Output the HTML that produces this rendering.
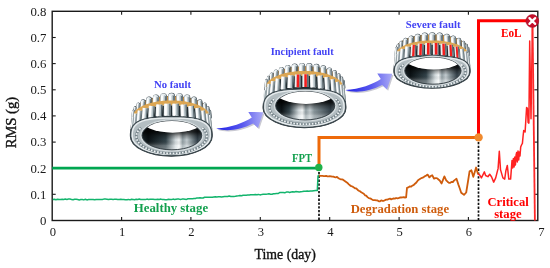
<!DOCTYPE html><html><head><meta charset="utf-8"><style>html,body{margin:0;padding:0;background:#fff;}svg{display:block}</style></head><body>
<svg width="550" height="268" viewBox="0 0 550 268" font-family="&quot;Liberation Serif&quot;, serif">
<defs>
<linearGradient id="rol" x1="0" x2="1" y1="0" y2="0">
<stop offset="0" stop-color="#c9d3d7"/><stop offset="0.3" stop-color="#f7fafb"/><stop offset="0.65" stop-color="#c2cdd2"/><stop offset="1" stop-color="#5d6a70"/></linearGradient>
<linearGradient id="rolr" x1="0" x2="1" y1="0" y2="0">
<stop offset="0" stop-color="#ff5050"/><stop offset="0.4" stop-color="#ff1010"/><stop offset="1" stop-color="#d00000"/></linearGradient>
<linearGradient id="borev" x1="0" x2="0" y1="0" y2="1"><stop offset="0" stop-color="#000" stop-opacity="0.9"/><stop offset="0.38" stop-color="#000" stop-opacity="0.75"/><stop offset="0.52" stop-color="#000" stop-opacity="0.3"/><stop offset="0.66" stop-color="#000" stop-opacity="0"/><stop offset="0.85" stop-color="#fff" stop-opacity="0.25"/><stop offset="1" stop-color="#fff" stop-opacity="0.35"/></linearGradient>
<linearGradient id="bandg" x1="0" x2="1" y1="0" y2="0"><stop offset="0" stop-color="#aeb9be"/><stop offset="0.1" stop-color="#7f8c92"/><stop offset="0.2" stop-color="#222c31"/><stop offset="0.8" stop-color="#222c31"/><stop offset="0.9" stop-color="#7f8c92"/><stop offset="1" stop-color="#6f7c82"/></linearGradient>
<linearGradient id="bore" x1="0" x2="1" y1="0" y2="0">
<stop offset="0" stop-color="#2a3236"/><stop offset="0.1" stop-color="#0c1216"/><stop offset="0.3" stop-color="#1c2428"/><stop offset="0.42" stop-color="#8a979c"/><stop offset="0.47" stop-color="#e8eef0"/><stop offset="0.55" stop-color="#8d9aa0"/><stop offset="0.7" stop-color="#a9b5ba"/><stop offset="0.78" stop-color="#6f7c82"/><stop offset="0.9" stop-color="#2a3337"/><stop offset="1" stop-color="#3b464b"/></linearGradient>
<linearGradient id="arr" x1="0" x2="1" y1="0" y2="0">
<stop offset="0" stop-color="#1f1fe6"/><stop offset="0.55" stop-color="#5858ee"/><stop offset="1" stop-color="#ababf6"/></linearGradient>
</defs>
<path d="M132.91,113.36 L132.96,112.48 L133.12,111.61 L133.38,110.74 L133.75,109.88 L134.22,109.03 L134.79,108.19 L135.46,107.36 L136.23,106.55 L137.09,105.76 L138.05,104.99 L139.10,104.24 L140.24,103.52 L141.46,102.82 L142.77,102.16 L144.15,101.52 L145.61,100.92 L147.14,100.35 L148.73,99.82 L150.39,99.32 L152.10,98.86 L153.87,98.44 L155.68,98.07 L157.54,97.73 L159.44,97.44 L161.36,97.19 L163.32,96.98 L165.29,96.82 L167.29,96.71 L169.29,96.64 L171.30,96.62 L173.31,96.64 L175.31,96.71 L177.31,96.82 L179.28,96.98 L181.24,97.19 L183.16,97.44 L185.06,97.73 L186.92,98.07 L188.73,98.44 L190.50,98.86 L192.21,99.32 L193.87,99.82 L195.46,100.35 L196.99,100.92 L198.45,101.52 L199.83,102.16 L201.14,102.82 L202.36,103.52 L203.50,104.24 L204.55,104.99 L205.51,105.76 L206.37,106.55 L207.14,107.36 L207.81,108.19 L208.38,109.03 L208.85,109.88 L209.22,110.74 L209.48,111.61 L209.64,112.48 L209.69,113.36 L212.10,134.00 L212.10,136.30 A40.80,19.70 0 0 1 130.50,136.30 L130.50,134.00 Z" fill="#9aa6ab" stroke="#2c363b" stroke-width="1.3"/>
<polygon points="209.69,113.36 209.64,112.48 209.48,111.61 209.22,110.74 208.85,109.88 208.38,109.03 207.81,108.19 207.14,107.36 206.37,106.55 205.51,105.76 204.55,104.99 203.50,104.24 202.36,103.52 201.14,102.82 199.83,102.16 198.45,101.52 196.99,100.92 195.46,100.35 193.87,99.82 192.21,99.32 190.50,98.86 188.73,98.44 186.92,98.07 185.06,97.73 183.16,97.44 181.24,97.19 179.28,96.98 177.31,96.82 175.31,96.71 173.31,96.64 171.30,96.62 169.29,96.64 167.29,96.71 165.29,96.82 163.32,96.98 161.36,97.19 159.44,97.44 157.54,97.73 155.68,98.07 153.87,98.44 152.10,98.86 150.39,99.32 148.73,99.82 147.14,100.35 145.61,100.92 144.15,101.52 142.77,102.16 141.46,102.82 140.24,103.52 139.10,104.24 138.05,104.99 137.09,105.76 136.23,106.55 135.46,107.36 134.79,108.19 134.22,109.03 133.75,109.88 133.38,110.74 133.12,111.61 132.96,112.48 132.91,113.36 130.50,134.00 130.56,133.11 130.72,132.22 131.00,131.34 131.39,130.47 131.89,129.60 132.50,128.75 133.21,127.91 134.03,127.09 134.95,126.28 135.97,125.50 137.08,124.74 138.29,124.01 139.59,123.30 140.98,122.62 142.45,121.98 144.00,121.37 145.62,120.79 147.32,120.25 149.08,119.74 150.90,119.28 152.78,118.85 154.71,118.47 156.68,118.13 158.69,117.83 160.74,117.58 162.82,117.37 164.92,117.21 167.04,117.09 169.16,117.02 171.30,117.00 173.44,117.02 175.56,117.09 177.68,117.21 179.78,117.37 181.86,117.58 183.91,117.83 185.92,118.13 187.89,118.47 189.82,118.85 191.70,119.28 193.52,119.74 195.28,120.25 196.98,120.79 198.60,121.37 200.15,121.98 201.62,122.62 203.01,123.30 204.31,124.01 205.52,124.74 206.63,125.50 207.65,126.28 208.57,127.09 209.39,127.91 210.10,128.75 210.71,129.60 211.21,130.47 211.60,131.34 211.88,132.22 212.04,133.11 212.10,134.00" fill="url(#bandg)"/>
<polygon points="208.14,108.25 207.65,107.57 207.10,106.89 206.47,106.22 205.78,105.57 205.03,104.93 204.22,104.30 203.34,103.69 202.41,103.10 201.41,102.52 200.37,101.97 199.26,101.43 198.11,100.92 196.91,100.42 195.66,99.96 194.36,99.51 193.02,99.09 191.64,98.69 190.23,98.33 188.77,97.98 187.29,97.67 185.78,97.38 184.24,97.13 182.67,96.90 181.09,96.70 179.48,96.53 177.87,96.39 176.23,96.28 174.59,96.21 172.95,96.16 171.30,96.14 169.65,96.16 168.01,96.21 166.37,96.28 164.73,96.39 163.12,96.53 161.51,96.70 159.93,96.90 158.36,97.13 156.82,97.38 155.31,97.67 153.83,97.98 152.37,98.33 150.96,98.69 149.58,99.09 148.24,99.51 146.94,99.96 145.69,100.42 144.49,100.92 143.34,101.43 142.23,101.97 141.19,102.52 140.19,103.10 139.26,103.69 138.38,104.30 137.57,104.93 136.82,105.57 136.13,106.22 135.50,106.89 134.95,107.57 134.46,108.25 133.49,116.87 133.99,116.17 134.56,115.49 135.20,114.82 135.91,114.16 136.68,113.52 137.52,112.89 138.42,112.27 139.38,111.68 140.39,111.10 141.47,110.54 142.60,110.00 143.79,109.48 145.02,108.98 146.30,108.51 147.63,108.06 149.01,107.64 150.42,107.24 151.88,106.87 153.37,106.53 154.89,106.21 156.44,105.92 158.02,105.66 159.63,105.43 161.26,105.23 162.90,105.06 164.56,104.92 166.24,104.82 167.92,104.74 169.61,104.69 171.30,104.68 172.99,104.69 174.68,104.74 176.36,104.82 178.04,104.92 179.70,105.06 181.34,105.23 182.97,105.43 184.58,105.66 186.16,105.92 187.71,106.21 189.23,106.53 190.72,106.87 192.18,107.24 193.59,107.64 194.97,108.06 196.30,108.51 197.58,108.98 198.81,109.48 200.00,110.00 201.13,110.54 202.21,111.10 203.22,111.68 204.18,112.27 205.08,112.89 205.92,113.52 206.69,114.16 207.40,114.82 208.04,115.49 208.61,116.17 209.11,116.87" fill="#c99042"/>
<line x1="209.72" y1="111.10" x2="210.45" y2="117.33" stroke="#46525a" stroke-width="2.90" stroke-linecap="round"/>
<line x1="209.43" y1="111.13" x2="210.15" y2="117.36" stroke="#e8eef0" stroke-width="2.00" stroke-linecap="round"/>
<line x1="208.98" y1="111.18" x2="209.70" y2="117.41" stroke="#ffffff" stroke-width="0.60" stroke-linecap="round"/>
<line x1="209.97" y1="111.07" x2="210.70" y2="117.30" stroke="#b3bfc4" stroke-width="0.84" stroke-linecap="round"/>
<line x1="210.27" y1="111.03" x2="210.99" y2="117.26" stroke="#56646a" stroke-width="0.40" stroke-linecap="round"/>
<line x1="208.06" y1="107.68" x2="208.75" y2="113.89" stroke="#46525a" stroke-width="2.90" stroke-linecap="round"/>
<line x1="207.76" y1="107.71" x2="208.45" y2="113.92" stroke="#e8eef0" stroke-width="2.00" stroke-linecap="round"/>
<line x1="207.31" y1="107.76" x2="208.00" y2="113.97" stroke="#ffffff" stroke-width="0.60" stroke-linecap="round"/>
<line x1="208.31" y1="107.65" x2="209.00" y2="113.86" stroke="#b3bfc4" stroke-width="0.84" stroke-linecap="round"/>
<line x1="208.60" y1="107.61" x2="209.30" y2="113.83" stroke="#56646a" stroke-width="0.40" stroke-linecap="round"/>
<line x1="204.80" y1="104.48" x2="205.43" y2="110.68" stroke="#46525a" stroke-width="3.87" stroke-linecap="round"/>
<line x1="204.50" y1="104.51" x2="205.13" y2="110.71" stroke="#e8eef0" stroke-width="2.97" stroke-linecap="round"/>
<line x1="203.83" y1="104.58" x2="204.47" y2="110.78" stroke="#ffffff" stroke-width="0.89" stroke-linecap="round"/>
<line x1="205.31" y1="104.43" x2="205.94" y2="110.63" stroke="#b3bfc4" stroke-width="1.25" stroke-linecap="round"/>
<line x1="205.76" y1="104.38" x2="206.39" y2="110.59" stroke="#56646a" stroke-width="0.59" stroke-linecap="round"/>
<line x1="200.09" y1="101.66" x2="200.63" y2="107.84" stroke="#46525a" stroke-width="4.88" stroke-linecap="round"/>
<line x1="199.79" y1="101.68" x2="200.33" y2="107.87" stroke="#e8eef0" stroke-width="3.98" stroke-linecap="round"/>
<line x1="198.90" y1="101.76" x2="199.44" y2="107.95" stroke="#ffffff" stroke-width="1.19" stroke-linecap="round"/>
<line x1="200.88" y1="101.59" x2="201.42" y2="107.77" stroke="#b3bfc4" stroke-width="1.67" stroke-linecap="round"/>
<line x1="201.47" y1="101.53" x2="202.01" y2="107.72" stroke="#56646a" stroke-width="0.80" stroke-linecap="round"/>
<line x1="194.13" y1="99.32" x2="194.56" y2="105.50" stroke="#46525a" stroke-width="5.71" stroke-linecap="round"/>
<line x1="193.83" y1="99.34" x2="194.26" y2="105.52" stroke="#e8eef0" stroke-width="4.81" stroke-linecap="round"/>
<line x1="192.75" y1="99.42" x2="193.18" y2="105.59" stroke="#ffffff" stroke-width="1.44" stroke-linecap="round"/>
<line x1="195.15" y1="99.25" x2="195.58" y2="105.43" stroke="#b3bfc4" stroke-width="2.02" stroke-linecap="round"/>
<line x1="195.87" y1="99.20" x2="196.30" y2="105.38" stroke="#56646a" stroke-width="0.96" stroke-linecap="round"/>
<line x1="187.19" y1="97.58" x2="187.49" y2="103.75" stroke="#46525a" stroke-width="6.33" stroke-linecap="round"/>
<line x1="186.89" y1="97.59" x2="187.19" y2="103.76" stroke="#e8eef0" stroke-width="5.43" stroke-linecap="round"/>
<line x1="185.67" y1="97.65" x2="185.97" y2="103.82" stroke="#ffffff" stroke-width="1.63" stroke-linecap="round"/>
<line x1="188.38" y1="97.52" x2="188.68" y2="103.69" stroke="#b3bfc4" stroke-width="2.28" stroke-linecap="round"/>
<line x1="189.20" y1="97.48" x2="189.49" y2="103.65" stroke="#56646a" stroke-width="1.09" stroke-linecap="round"/>
<line x1="179.57" y1="96.50" x2="179.72" y2="102.67" stroke="#46525a" stroke-width="6.71" stroke-linecap="round"/>
<line x1="179.27" y1="96.51" x2="179.42" y2="102.67" stroke="#e8eef0" stroke-width="5.81" stroke-linecap="round"/>
<line x1="177.96" y1="96.54" x2="178.11" y2="102.71" stroke="#ffffff" stroke-width="1.74" stroke-linecap="round"/>
<line x1="180.87" y1="96.47" x2="181.02" y2="102.63" stroke="#b3bfc4" stroke-width="2.44" stroke-linecap="round"/>
<line x1="181.74" y1="96.45" x2="181.89" y2="102.61" stroke="#56646a" stroke-width="1.16" stroke-linecap="round"/>
<line x1="171.60" y1="96.14" x2="171.60" y2="102.31" stroke="#46525a" stroke-width="6.84" stroke-linecap="round"/>
<line x1="171.30" y1="96.14" x2="171.30" y2="102.31" stroke="#e8eef0" stroke-width="5.94" stroke-linecap="round"/>
<line x1="169.96" y1="96.14" x2="169.96" y2="102.31" stroke="#ffffff" stroke-width="1.78" stroke-linecap="round"/>
<line x1="172.93" y1="96.14" x2="172.93" y2="102.31" stroke="#b3bfc4" stroke-width="2.50" stroke-linecap="round"/>
<line x1="173.83" y1="96.14" x2="173.83" y2="102.31" stroke="#56646a" stroke-width="1.19" stroke-linecap="round"/>
<line x1="163.63" y1="96.52" x2="163.48" y2="102.68" stroke="#46525a" stroke-width="6.71" stroke-linecap="round"/>
<line x1="163.33" y1="96.51" x2="163.18" y2="102.67" stroke="#e8eef0" stroke-width="5.81" stroke-linecap="round"/>
<line x1="162.02" y1="96.48" x2="161.87" y2="102.64" stroke="#ffffff" stroke-width="1.74" stroke-linecap="round"/>
<line x1="164.93" y1="96.55" x2="164.78" y2="102.71" stroke="#b3bfc4" stroke-width="2.44" stroke-linecap="round"/>
<line x1="165.80" y1="96.57" x2="165.65" y2="102.73" stroke="#56646a" stroke-width="1.16" stroke-linecap="round"/>
<line x1="156.01" y1="97.61" x2="155.71" y2="103.77" stroke="#46525a" stroke-width="6.33" stroke-linecap="round"/>
<line x1="155.71" y1="97.59" x2="155.41" y2="103.76" stroke="#e8eef0" stroke-width="5.43" stroke-linecap="round"/>
<line x1="154.49" y1="97.53" x2="154.19" y2="103.70" stroke="#ffffff" stroke-width="1.63" stroke-linecap="round"/>
<line x1="157.20" y1="97.66" x2="156.90" y2="103.83" stroke="#b3bfc4" stroke-width="2.28" stroke-linecap="round"/>
<line x1="158.01" y1="97.70" x2="157.72" y2="103.87" stroke="#56646a" stroke-width="1.09" stroke-linecap="round"/>
<line x1="149.07" y1="99.36" x2="148.64" y2="105.54" stroke="#46525a" stroke-width="5.71" stroke-linecap="round"/>
<line x1="148.77" y1="99.34" x2="148.34" y2="105.52" stroke="#e8eef0" stroke-width="4.81" stroke-linecap="round"/>
<line x1="147.69" y1="99.27" x2="147.26" y2="105.44" stroke="#ffffff" stroke-width="1.44" stroke-linecap="round"/>
<line x1="150.09" y1="99.43" x2="149.66" y2="105.61" stroke="#b3bfc4" stroke-width="2.02" stroke-linecap="round"/>
<line x1="150.80" y1="99.48" x2="150.38" y2="105.66" stroke="#56646a" stroke-width="0.96" stroke-linecap="round"/>
<line x1="143.11" y1="101.71" x2="142.57" y2="107.90" stroke="#46525a" stroke-width="4.88" stroke-linecap="round"/>
<line x1="142.81" y1="101.68" x2="142.27" y2="107.87" stroke="#e8eef0" stroke-width="3.98" stroke-linecap="round"/>
<line x1="141.92" y1="101.60" x2="141.38" y2="107.79" stroke="#ffffff" stroke-width="1.19" stroke-linecap="round"/>
<line x1="143.90" y1="101.78" x2="143.36" y2="107.96" stroke="#b3bfc4" stroke-width="1.67" stroke-linecap="round"/>
<line x1="144.49" y1="101.83" x2="143.95" y2="108.02" stroke="#56646a" stroke-width="0.80" stroke-linecap="round"/>
<line x1="138.40" y1="104.54" x2="137.77" y2="110.74" stroke="#46525a" stroke-width="3.87" stroke-linecap="round"/>
<line x1="138.10" y1="104.51" x2="137.47" y2="110.71" stroke="#e8eef0" stroke-width="2.97" stroke-linecap="round"/>
<line x1="137.44" y1="104.44" x2="136.80" y2="110.65" stroke="#ffffff" stroke-width="0.89" stroke-linecap="round"/>
<line x1="138.91" y1="104.59" x2="138.28" y2="110.80" stroke="#b3bfc4" stroke-width="1.25" stroke-linecap="round"/>
<line x1="139.36" y1="104.64" x2="138.73" y2="110.84" stroke="#56646a" stroke-width="0.59" stroke-linecap="round"/>
<line x1="135.14" y1="107.74" x2="134.45" y2="113.96" stroke="#46525a" stroke-width="2.90" stroke-linecap="round"/>
<line x1="134.84" y1="107.71" x2="134.15" y2="113.92" stroke="#e8eef0" stroke-width="2.00" stroke-linecap="round"/>
<line x1="134.39" y1="107.66" x2="133.70" y2="113.87" stroke="#ffffff" stroke-width="0.60" stroke-linecap="round"/>
<line x1="135.39" y1="107.77" x2="134.69" y2="113.99" stroke="#b3bfc4" stroke-width="0.84" stroke-linecap="round"/>
<line x1="135.69" y1="107.80" x2="134.99" y2="114.02" stroke="#56646a" stroke-width="0.40" stroke-linecap="round"/>
<line x1="133.47" y1="111.17" x2="132.75" y2="117.40" stroke="#46525a" stroke-width="2.90" stroke-linecap="round"/>
<line x1="133.17" y1="111.13" x2="132.45" y2="117.36" stroke="#e8eef0" stroke-width="2.00" stroke-linecap="round"/>
<line x1="132.73" y1="111.08" x2="132.00" y2="117.31" stroke="#ffffff" stroke-width="0.60" stroke-linecap="round"/>
<line x1="133.72" y1="111.19" x2="133.00" y2="117.43" stroke="#b3bfc4" stroke-width="0.84" stroke-linecap="round"/>
<line x1="134.02" y1="111.23" x2="133.29" y2="117.46" stroke="#56646a" stroke-width="0.40" stroke-linecap="round"/>
<polygon points="208.41,112.24 207.89,111.56 207.30,110.90 206.65,110.25 205.94,109.60 205.16,108.98 204.33,108.36 203.43,107.77 202.48,107.19 201.47,106.63 200.41,106.08 199.29,105.56 198.13,105.06 196.91,104.58 195.65,104.12 194.35,103.69 193.01,103.28 191.62,102.89 190.20,102.53 188.75,102.20 187.26,101.89 185.75,101.62 184.21,101.36 182.65,101.14 181.07,100.95 179.46,100.79 177.85,100.65 176.22,100.55 174.59,100.47 172.94,100.43 171.30,100.41 169.66,100.43 168.01,100.47 166.38,100.55 164.75,100.65 163.14,100.79 161.53,100.95 159.95,101.14 158.39,101.36 156.85,101.62 155.34,101.89 153.85,102.20 152.40,102.53 150.98,102.89 149.59,103.28 148.25,103.69 146.95,104.12 145.69,104.58 144.47,105.06 143.31,105.56 142.19,106.08 141.13,106.63 140.12,107.19 139.17,107.77 138.27,108.36 137.44,108.98 136.66,109.60 135.95,110.25 135.30,110.90 134.71,111.56 134.19,112.24 133.66,117.02 134.19,116.34 134.78,115.68 135.44,115.02 136.16,114.38 136.95,113.75 137.80,113.13 138.70,112.53 139.67,111.95 140.69,111.39 141.77,110.84 142.90,110.32 144.09,109.82 145.32,109.33 146.59,108.87 147.92,108.44 149.28,108.03 150.68,107.64 152.12,107.28 153.60,106.95 155.10,106.64 156.64,106.36 158.20,106.11 159.79,105.89 161.39,105.69 163.02,105.53 164.66,105.39 166.31,105.29 167.97,105.21 169.63,105.17 171.30,105.15 172.97,105.17 174.63,105.21 176.29,105.29 177.94,105.39 179.58,105.53 181.21,105.69 182.81,105.89 184.40,106.11 185.96,106.36 187.50,106.64 189.00,106.95 190.48,107.28 191.92,107.64 193.32,108.03 194.68,108.44 196.01,108.87 197.28,109.33 198.51,109.82 199.70,110.32 200.83,110.84 201.91,111.39 202.93,111.95 203.90,112.53 204.80,113.13 205.65,113.75 206.44,114.38 207.16,115.02 207.82,115.68 208.41,116.34 208.94,117.02" fill="#dca653"/>
<line x1="209.67" y1="117.06" x2="211.04" y2="129.03" stroke="#e8eef0" stroke-width="2.00" stroke-linecap="butt"/>
<line x1="209.23" y1="117.11" x2="210.60" y2="129.08" stroke="#ffffff" stroke-width="0.60" stroke-linecap="butt"/>
<line x1="210.22" y1="117.00" x2="211.59" y2="128.97" stroke="#b3bfc4" stroke-width="0.84" stroke-linecap="butt"/>
<line x1="210.52" y1="116.96" x2="211.89" y2="128.93" stroke="#56646a" stroke-width="0.40" stroke-linecap="butt"/>
<line x1="207.14" y1="113.71" x2="208.42" y2="125.65" stroke="#e8eef0" stroke-width="2.69" stroke-linecap="butt"/>
<line x1="206.54" y1="113.78" x2="207.82" y2="125.72" stroke="#ffffff" stroke-width="0.81" stroke-linecap="butt"/>
<line x1="207.87" y1="113.64" x2="209.15" y2="125.57" stroke="#b3bfc4" stroke-width="1.13" stroke-linecap="butt"/>
<line x1="208.27" y1="113.59" x2="209.55" y2="125.53" stroke="#56646a" stroke-width="0.54" stroke-linecap="butt"/>
<line x1="203.04" y1="110.67" x2="204.17" y2="122.58" stroke="#e8eef0" stroke-width="3.88" stroke-linecap="butt"/>
<line x1="202.17" y1="110.75" x2="203.30" y2="122.66" stroke="#ffffff" stroke-width="1.16" stroke-linecap="butt"/>
<line x1="204.10" y1="110.57" x2="205.23" y2="122.48" stroke="#b3bfc4" stroke-width="1.63" stroke-linecap="butt"/>
<line x1="204.68" y1="110.51" x2="205.81" y2="122.42" stroke="#56646a" stroke-width="0.78" stroke-linecap="butt"/>
<line x1="197.55" y1="108.05" x2="198.49" y2="119.94" stroke="#e8eef0" stroke-width="4.91" stroke-linecap="butt"/>
<line x1="196.45" y1="108.14" x2="197.39" y2="120.03" stroke="#ffffff" stroke-width="1.47" stroke-linecap="butt"/>
<line x1="198.90" y1="107.95" x2="199.83" y2="119.83" stroke="#b3bfc4" stroke-width="2.06" stroke-linecap="butt"/>
<line x1="199.63" y1="107.89" x2="200.57" y2="119.78" stroke="#56646a" stroke-width="0.98" stroke-linecap="butt"/>
<line x1="190.92" y1="105.98" x2="191.62" y2="117.85" stroke="#e8eef0" stroke-width="5.72" stroke-linecap="butt"/>
<line x1="189.63" y1="106.06" x2="190.33" y2="117.93" stroke="#ffffff" stroke-width="1.72" stroke-linecap="butt"/>
<line x1="192.49" y1="105.89" x2="193.19" y2="117.76" stroke="#b3bfc4" stroke-width="2.40" stroke-linecap="butt"/>
<line x1="193.34" y1="105.84" x2="194.04" y2="117.71" stroke="#56646a" stroke-width="1.14" stroke-linecap="butt"/>
<line x1="183.42" y1="104.55" x2="183.86" y2="116.41" stroke="#e8eef0" stroke-width="6.28" stroke-linecap="butt"/>
<line x1="182.01" y1="104.60" x2="182.44" y2="116.46" stroke="#ffffff" stroke-width="1.88" stroke-linecap="butt"/>
<line x1="185.15" y1="104.49" x2="185.58" y2="116.35" stroke="#b3bfc4" stroke-width="2.64" stroke-linecap="butt"/>
<line x1="186.09" y1="104.45" x2="186.52" y2="116.31" stroke="#56646a" stroke-width="1.26" stroke-linecap="butt"/>
<line x1="175.40" y1="103.82" x2="175.55" y2="115.67" stroke="#e8eef0" stroke-width="6.57" stroke-linecap="butt"/>
<line x1="173.92" y1="103.84" x2="174.07" y2="115.69" stroke="#ffffff" stroke-width="1.97" stroke-linecap="butt"/>
<line x1="177.21" y1="103.80" x2="177.35" y2="115.65" stroke="#b3bfc4" stroke-width="2.76" stroke-linecap="butt"/>
<line x1="178.19" y1="103.79" x2="178.34" y2="115.64" stroke="#56646a" stroke-width="1.31" stroke-linecap="butt"/>
<line x1="167.20" y1="103.82" x2="167.05" y2="115.67" stroke="#e8eef0" stroke-width="6.57" stroke-linecap="butt"/>
<line x1="165.72" y1="103.80" x2="165.58" y2="115.65" stroke="#ffffff" stroke-width="1.97" stroke-linecap="butt"/>
<line x1="169.00" y1="103.84" x2="168.86" y2="115.69" stroke="#b3bfc4" stroke-width="2.76" stroke-linecap="butt"/>
<line x1="169.99" y1="103.85" x2="169.84" y2="115.71" stroke="#56646a" stroke-width="1.31" stroke-linecap="butt"/>
<line x1="159.18" y1="104.55" x2="158.74" y2="116.41" stroke="#e8eef0" stroke-width="6.28" stroke-linecap="butt"/>
<line x1="157.76" y1="104.50" x2="157.33" y2="116.36" stroke="#ffffff" stroke-width="1.88" stroke-linecap="butt"/>
<line x1="160.90" y1="104.61" x2="160.47" y2="116.47" stroke="#b3bfc4" stroke-width="2.64" stroke-linecap="butt"/>
<line x1="161.84" y1="104.65" x2="161.41" y2="116.51" stroke="#56646a" stroke-width="1.26" stroke-linecap="butt"/>
<line x1="151.68" y1="105.98" x2="150.98" y2="117.85" stroke="#e8eef0" stroke-width="5.72" stroke-linecap="butt"/>
<line x1="150.40" y1="105.91" x2="149.70" y2="117.78" stroke="#ffffff" stroke-width="1.72" stroke-linecap="butt"/>
<line x1="153.25" y1="106.08" x2="152.55" y2="117.95" stroke="#b3bfc4" stroke-width="2.40" stroke-linecap="butt"/>
<line x1="154.11" y1="106.13" x2="153.41" y2="118.00" stroke="#56646a" stroke-width="1.14" stroke-linecap="butt"/>
<line x1="145.05" y1="108.05" x2="144.11" y2="119.94" stroke="#e8eef0" stroke-width="4.91" stroke-linecap="butt"/>
<line x1="143.95" y1="107.96" x2="143.01" y2="119.85" stroke="#ffffff" stroke-width="1.47" stroke-linecap="butt"/>
<line x1="146.39" y1="108.16" x2="145.46" y2="120.05" stroke="#b3bfc4" stroke-width="2.06" stroke-linecap="butt"/>
<line x1="147.13" y1="108.22" x2="146.19" y2="120.10" stroke="#56646a" stroke-width="0.98" stroke-linecap="butt"/>
<line x1="139.56" y1="110.67" x2="138.43" y2="122.58" stroke="#e8eef0" stroke-width="3.88" stroke-linecap="butt"/>
<line x1="138.69" y1="110.58" x2="137.56" y2="122.50" stroke="#ffffff" stroke-width="1.16" stroke-linecap="butt"/>
<line x1="140.62" y1="110.77" x2="139.49" y2="122.68" stroke="#b3bfc4" stroke-width="1.63" stroke-linecap="butt"/>
<line x1="141.20" y1="110.82" x2="140.07" y2="122.73" stroke="#56646a" stroke-width="0.78" stroke-linecap="butt"/>
<line x1="135.46" y1="113.71" x2="134.18" y2="125.65" stroke="#e8eef0" stroke-width="2.69" stroke-linecap="butt"/>
<line x1="134.86" y1="113.65" x2="133.58" y2="125.59" stroke="#ffffff" stroke-width="0.81" stroke-linecap="butt"/>
<line x1="136.19" y1="113.79" x2="134.92" y2="125.73" stroke="#b3bfc4" stroke-width="1.13" stroke-linecap="butt"/>
<line x1="136.59" y1="113.84" x2="135.32" y2="125.77" stroke="#56646a" stroke-width="0.54" stroke-linecap="butt"/>
<line x1="132.93" y1="117.06" x2="131.56" y2="129.03" stroke="#e8eef0" stroke-width="2.00" stroke-linecap="butt"/>
<line x1="132.48" y1="117.01" x2="131.11" y2="128.98" stroke="#ffffff" stroke-width="0.60" stroke-linecap="butt"/>
<line x1="133.47" y1="117.12" x2="132.10" y2="129.09" stroke="#b3bfc4" stroke-width="0.84" stroke-linecap="butt"/>
<line x1="133.77" y1="117.16" x2="132.40" y2="129.13" stroke="#56646a" stroke-width="0.40" stroke-linecap="butt"/>
<path d="M130.80,136.30 L130.84,133.59 L130.95,132.00 L131.13,130.67 L131.39,129.49 L131.73,128.42 L132.13,127.43 L132.61,126.51 L133.17,125.65 L133.80,124.84 L134.50,124.08 L135.28,123.36 L136.14,122.69 L137.07,122.05 L138.07,121.46 L139.16,120.90 L140.32,120.38 L141.56,119.90 L142.88,119.46 L144.29,119.05 L145.79,118.67 L147.38,118.34 L149.07,118.03 L150.87,117.77 L152.79,117.54 L154.85,117.34 L157.09,117.18 L159.54,117.06 L162.31,116.97 L165.63,116.92 L171.30,116.90 L176.97,116.92 L180.29,116.97 L183.06,117.06 L185.51,117.18 L187.75,117.34 L189.81,117.54 L191.73,117.77 L193.53,118.03 L195.22,118.34 L196.81,118.67 L198.31,119.05 L199.72,119.46 L201.04,119.90 L202.28,120.38 L203.44,120.90 L204.53,121.46 L205.53,122.05 L206.46,122.69 L207.32,123.36 L208.10,124.08 L208.80,124.84 L209.43,125.65 L209.99,126.51 L210.47,127.43 L210.87,128.42 L211.21,129.49 L211.47,130.67 L211.65,132.00 L211.76,133.59 L211.80,136.30 A40.50,19.40 0 0 1 130.80,136.30 Z" fill="#b4bec2" stroke="#3d494f" stroke-width="1.1"/>
<path d="M132.30,136.30 L132.34,133.77 L132.44,132.28 L132.62,131.05 L132.87,129.95 L133.19,128.95 L133.58,128.03 L134.05,127.17 L134.58,126.36 L135.19,125.61 L135.87,124.90 L136.62,124.23 L137.44,123.60 L138.33,123.01 L139.30,122.45 L140.35,121.93 L141.46,121.45 L142.66,121.00 L143.93,120.58 L145.29,120.20 L146.73,119.86 L148.26,119.54 L149.89,119.26 L151.62,119.01 L153.47,118.80 L155.46,118.61 L157.61,118.46 L159.98,118.35 L162.65,118.27 L165.84,118.22 L171.30,118.20 L176.76,118.22 L179.95,118.27 L182.62,118.35 L184.99,118.46 L187.14,118.61 L189.13,118.80 L190.98,119.01 L192.71,119.26 L194.34,119.54 L195.87,119.86 L197.31,120.20 L198.67,120.58 L199.94,121.00 L201.14,121.45 L202.25,121.93 L203.30,122.45 L204.27,123.01 L205.16,123.60 L205.98,124.23 L206.73,124.90 L207.41,125.61 L208.02,126.36 L208.55,127.17 L209.02,128.03 L209.41,128.95 L209.73,129.95 L209.98,131.05 L210.16,132.28 L210.26,133.77 L210.30,136.30 A39.00,18.10 0 0 1 132.30,136.30 Z" fill="none" stroke="#e8edef" stroke-width="1.3"/>
<path d="M202.17,127.83 A35.30,17.05 0 1 1 141.03,127.83" fill="none" stroke="#76848a" stroke-width="2.6"/>
<path d="M202.17,127.83 A35.30,17.05 0 1 1 141.03,127.83" fill="none" stroke="#eef2f4" stroke-width="1.8" stroke-dasharray="1.6 1.5"/>
<ellipse cx="171.9" cy="135.4" rx="31.1" ry="15.5" fill="none" stroke="#d5dcdf" stroke-width="1.2"/>
<linearGradient id="bg1" x1="0" x2="1" y1="0" y2="0"><stop offset="0" stop-color="#1e2a2e"/><stop offset="0.1" stop-color="#0a1114"/><stop offset="0.40" stop-color="#33434a"/><stop offset="0.56" stop-color="#d5dde0"/><stop offset="0.62" stop-color="#f4f7f8"/><stop offset="0.68" stop-color="#94a1a6"/><stop offset="0.75" stop-color="#c5ced2"/><stop offset="0.82" stop-color="#8a979c"/><stop offset="0.93" stop-color="#34414a"/><stop offset="1" stop-color="#56646a"/></linearGradient>
<clipPath id="bc1"><ellipse cx="171.9" cy="135.4" rx="29.8" ry="14.4"/></clipPath>
<ellipse cx="171.9" cy="135.4" rx="29.8" ry="14.4" fill="url(#bg1)"/>
<ellipse cx="171.9" cy="135.4" rx="29.8" ry="14.4" fill="url(#borev)" stroke="#2e383d" stroke-width="0.9"/>
<ellipse clip-path="url(#bc1)" cx="172.7" cy="118.3" rx="32.8" ry="14.4" fill="#ffffff"/>
<path d="M265.61,84.31 L265.66,83.41 L265.82,82.51 L266.09,81.61 L266.46,80.73 L266.93,79.85 L267.51,78.98 L268.19,78.13 L268.97,77.30 L269.85,76.48 L270.82,75.69 L271.88,74.92 L273.04,74.18 L274.28,73.46 L275.60,72.77 L277.00,72.12 L278.48,71.50 L280.02,70.91 L281.64,70.36 L283.32,69.85 L285.05,69.38 L286.84,68.95 L288.68,68.56 L290.56,68.22 L292.48,67.91 L294.43,67.66 L296.41,67.45 L298.42,67.28 L300.43,67.16 L302.46,67.09 L304.50,67.07 L306.54,67.09 L308.57,67.16 L310.58,67.28 L312.59,67.45 L314.57,67.66 L316.52,67.91 L318.44,68.22 L320.32,68.56 L322.16,68.95 L323.95,69.38 L325.68,69.85 L327.36,70.36 L328.98,70.91 L330.52,71.50 L332.00,72.12 L333.40,72.77 L334.72,73.46 L335.96,74.18 L337.12,74.92 L338.18,75.69 L339.15,76.48 L340.03,77.30 L340.81,78.13 L341.49,78.98 L342.07,79.85 L342.54,80.73 L342.91,81.61 L343.18,82.51 L343.34,83.41 L343.39,84.31 L345.80,106.50 L345.80,108.20 A41.30,19.30 0 0 1 263.20,108.20 L263.20,106.50 Z" fill="#9aa6ab" stroke="#2c363b" stroke-width="1.3"/>
<polygon points="343.39,84.31 343.34,83.41 343.18,82.51 342.91,81.61 342.54,80.73 342.07,79.85 341.49,78.98 340.81,78.13 340.03,77.30 339.15,76.48 338.18,75.69 337.12,74.92 335.96,74.18 334.72,73.46 333.40,72.77 332.00,72.12 330.52,71.50 328.98,70.91 327.36,70.36 325.68,69.85 323.95,69.38 322.16,68.95 320.32,68.56 318.44,68.22 316.52,67.91 314.57,67.66 312.59,67.45 310.58,67.28 308.57,67.16 306.54,67.09 304.50,67.07 302.46,67.09 300.43,67.16 298.42,67.28 296.41,67.45 294.43,67.66 292.48,67.91 290.56,68.22 288.68,68.56 286.84,68.95 285.05,69.38 283.32,69.85 281.64,70.36 280.02,70.91 278.48,71.50 277.00,72.12 275.60,72.77 274.28,73.46 273.04,74.18 271.88,74.92 270.82,75.69 269.85,76.48 268.97,77.30 268.19,78.13 267.51,78.98 266.93,79.85 266.46,80.73 266.09,81.61 265.82,82.51 265.66,83.41 265.61,84.31 263.20,106.50 263.26,105.58 263.43,104.67 263.71,103.76 264.10,102.86 264.61,101.97 265.22,101.09 265.94,100.23 266.77,99.38 267.70,98.56 268.73,97.75 269.86,96.97 271.09,96.21 272.40,95.49 273.81,94.79 275.30,94.13 276.86,93.49 278.51,92.90 280.22,92.34 282.01,91.82 283.85,91.34 285.75,90.91 287.70,90.51 289.70,90.16 291.74,89.86 293.81,89.60 295.91,89.38 298.04,89.22 300.18,89.10 302.34,89.02 304.50,89.00 306.66,89.02 308.82,89.10 310.96,89.22 313.09,89.38 315.19,89.60 317.26,89.86 319.30,90.16 321.30,90.51 323.25,90.91 325.15,91.34 326.99,91.82 328.78,92.34 330.49,92.90 332.14,93.49 333.70,94.13 335.19,94.79 336.60,95.49 337.91,96.21 339.14,96.97 340.27,97.75 341.30,98.56 342.23,99.38 343.06,100.23 343.78,101.09 344.39,101.97 344.90,102.86 345.29,103.76 345.57,104.67 345.74,105.58 345.80,106.50" fill="url(#bandg)"/>
<polygon points="341.82,79.03 341.33,78.32 340.76,77.63 340.13,76.94 339.43,76.27 338.67,75.61 337.85,74.96 336.96,74.33 336.01,73.72 335.01,73.13 333.95,72.56 332.83,72.01 331.66,71.48 330.44,70.97 329.17,70.49 327.86,70.03 326.50,69.59 325.11,69.19 323.67,68.81 322.20,68.45 320.70,68.13 319.17,67.84 317.61,67.57 316.02,67.34 314.41,67.13 312.79,66.96 311.15,66.81 309.50,66.70 307.84,66.62 306.17,66.58 304.50,66.56 302.83,66.58 301.16,66.62 299.50,66.70 297.85,66.81 296.21,66.96 294.59,67.13 292.98,67.34 291.39,67.57 289.83,67.84 288.30,68.13 286.80,68.45 285.33,68.81 283.89,69.19 282.50,69.59 281.14,70.03 279.83,70.49 278.56,70.97 277.34,71.48 276.17,72.01 275.05,72.56 273.99,73.13 272.99,73.72 272.04,74.33 271.15,74.96 270.33,75.61 269.57,76.27 268.87,76.94 268.24,77.63 267.67,78.32 267.18,79.03 266.26,87.78 266.77,87.06 267.35,86.36 268.00,85.67 268.71,84.99 269.49,84.33 270.34,83.68 271.24,83.05 272.22,82.43 273.25,81.84 274.33,81.26 275.48,80.71 276.67,80.18 277.92,79.66 279.22,79.18 280.57,78.72 281.96,78.28 283.39,77.87 284.86,77.49 286.36,77.14 287.90,76.81 289.47,76.51 291.07,76.25 292.70,76.01 294.34,75.80 296.01,75.63 297.69,75.49 299.38,75.37 301.08,75.29 302.79,75.25 304.50,75.23 306.21,75.25 307.92,75.29 309.62,75.37 311.31,75.49 312.99,75.63 314.66,75.80 316.30,76.01 317.93,76.25 319.53,76.51 321.10,76.81 322.64,77.14 324.14,77.49 325.61,77.87 327.04,78.28 328.43,78.72 329.78,79.18 331.08,79.66 332.33,80.18 333.52,80.71 334.67,81.26 335.75,81.84 336.78,82.43 337.76,83.05 338.66,83.68 339.51,84.33 340.29,84.99 341.00,85.67 341.65,86.36 342.23,87.06 342.74,87.78" fill="#c99042"/>
<line x1="343.30" y1="81.19" x2="343.99" y2="87.63" stroke="#46525a" stroke-width="2.90" stroke-linecap="round"/>
<line x1="343.00" y1="81.22" x2="343.70" y2="87.66" stroke="#e8eef0" stroke-width="2.00" stroke-linecap="round"/>
<line x1="342.55" y1="81.27" x2="343.25" y2="87.71" stroke="#ffffff" stroke-width="0.60" stroke-linecap="round"/>
<line x1="343.55" y1="81.16" x2="344.24" y2="87.60" stroke="#b3bfc4" stroke-width="0.84" stroke-linecap="round"/>
<line x1="343.85" y1="81.13" x2="344.54" y2="87.57" stroke="#56646a" stroke-width="0.40" stroke-linecap="round"/>
<line x1="341.73" y1="77.99" x2="342.39" y2="84.41" stroke="#46525a" stroke-width="2.90" stroke-linecap="round"/>
<line x1="341.43" y1="78.02" x2="342.09" y2="84.45" stroke="#e8eef0" stroke-width="2.00" stroke-linecap="round"/>
<line x1="340.98" y1="78.06" x2="341.65" y2="84.49" stroke="#ffffff" stroke-width="0.60" stroke-linecap="round"/>
<line x1="341.97" y1="77.96" x2="342.64" y2="84.39" stroke="#b3bfc4" stroke-width="0.84" stroke-linecap="round"/>
<line x1="342.27" y1="77.93" x2="342.94" y2="84.36" stroke="#56646a" stroke-width="0.40" stroke-linecap="round"/>
<line x1="338.82" y1="74.98" x2="339.43" y2="81.39" stroke="#46525a" stroke-width="3.53" stroke-linecap="round"/>
<line x1="338.52" y1="75.01" x2="339.13" y2="81.42" stroke="#e8eef0" stroke-width="2.63" stroke-linecap="round"/>
<line x1="337.93" y1="75.06" x2="338.54" y2="81.48" stroke="#ffffff" stroke-width="0.79" stroke-linecap="round"/>
<line x1="339.24" y1="74.94" x2="339.85" y2="81.35" stroke="#b3bfc4" stroke-width="1.10" stroke-linecap="round"/>
<line x1="339.63" y1="74.90" x2="340.24" y2="81.32" stroke="#56646a" stroke-width="0.53" stroke-linecap="round"/>
<line x1="334.68" y1="72.27" x2="335.22" y2="78.67" stroke="#46525a" stroke-width="4.39" stroke-linecap="round"/>
<line x1="334.38" y1="72.30" x2="334.92" y2="78.70" stroke="#e8eef0" stroke-width="3.49" stroke-linecap="round"/>
<line x1="333.60" y1="72.36" x2="334.14" y2="78.77" stroke="#ffffff" stroke-width="1.05" stroke-linecap="round"/>
<line x1="335.34" y1="72.22" x2="335.88" y2="78.62" stroke="#b3bfc4" stroke-width="1.46" stroke-linecap="round"/>
<line x1="335.86" y1="72.17" x2="336.40" y2="78.57" stroke="#56646a" stroke-width="0.70" stroke-linecap="round"/>
<line x1="329.46" y1="69.96" x2="329.91" y2="76.35" stroke="#46525a" stroke-width="5.12" stroke-linecap="round"/>
<line x1="329.16" y1="69.98" x2="329.61" y2="76.38" stroke="#e8eef0" stroke-width="4.22" stroke-linecap="round"/>
<line x1="328.21" y1="70.05" x2="328.66" y2="76.44" stroke="#ffffff" stroke-width="1.27" stroke-linecap="round"/>
<line x1="330.32" y1="69.90" x2="330.77" y2="76.29" stroke="#b3bfc4" stroke-width="1.77" stroke-linecap="round"/>
<line x1="330.95" y1="69.86" x2="331.40" y2="76.25" stroke="#56646a" stroke-width="0.84" stroke-linecap="round"/>
<line x1="323.35" y1="68.13" x2="323.69" y2="74.52" stroke="#46525a" stroke-width="5.70" stroke-linecap="round"/>
<line x1="323.05" y1="68.15" x2="323.39" y2="74.53" stroke="#e8eef0" stroke-width="4.80" stroke-linecap="round"/>
<line x1="321.97" y1="68.21" x2="322.31" y2="74.59" stroke="#ffffff" stroke-width="1.44" stroke-linecap="round"/>
<line x1="324.37" y1="68.08" x2="324.71" y2="74.46" stroke="#b3bfc4" stroke-width="2.02" stroke-linecap="round"/>
<line x1="325.09" y1="68.04" x2="325.43" y2="74.43" stroke="#56646a" stroke-width="0.96" stroke-linecap="round"/>
<line x1="316.57" y1="66.85" x2="316.79" y2="73.23" stroke="#46525a" stroke-width="6.11" stroke-linecap="round"/>
<line x1="316.27" y1="66.86" x2="316.49" y2="73.24" stroke="#e8eef0" stroke-width="5.21" stroke-linecap="round"/>
<line x1="315.10" y1="66.90" x2="315.31" y2="73.28" stroke="#ffffff" stroke-width="1.56" stroke-linecap="round"/>
<line x1="317.71" y1="66.82" x2="317.92" y2="73.19" stroke="#b3bfc4" stroke-width="2.19" stroke-linecap="round"/>
<line x1="318.49" y1="66.79" x2="318.70" y2="73.17" stroke="#56646a" stroke-width="1.04" stroke-linecap="round"/>
<line x1="309.37" y1="66.17" x2="309.45" y2="72.54" stroke="#46525a" stroke-width="6.33" stroke-linecap="round"/>
<line x1="309.07" y1="66.17" x2="309.15" y2="72.55" stroke="#e8eef0" stroke-width="5.43" stroke-linecap="round"/>
<line x1="307.85" y1="66.19" x2="307.93" y2="72.56" stroke="#ffffff" stroke-width="1.63" stroke-linecap="round"/>
<line x1="310.56" y1="66.15" x2="310.64" y2="72.53" stroke="#b3bfc4" stroke-width="2.28" stroke-linecap="round"/>
<line x1="311.38" y1="66.14" x2="311.46" y2="72.52" stroke="#56646a" stroke-width="1.09" stroke-linecap="round"/>
<line x1="302.00" y1="66.10" x2="301.95" y2="72.47" stroke="#46525a" stroke-width="6.36" stroke-linecap="round"/>
<line x1="301.70" y1="66.10" x2="301.65" y2="72.47" stroke="#e8eef0" stroke-width="5.46" stroke-linecap="round"/>
<line x1="300.47" y1="66.09" x2="300.42" y2="72.46" stroke="#ffffff" stroke-width="1.64" stroke-linecap="round"/>
<line x1="303.20" y1="66.11" x2="303.15" y2="72.48" stroke="#b3bfc4" stroke-width="2.29" stroke-linecap="round"/>
<line x1="304.02" y1="66.11" x2="303.96" y2="72.49" stroke="#56646a" stroke-width="1.09" stroke-linecap="round"/>
<line x1="294.73" y1="66.65" x2="294.55" y2="73.03" stroke="#46525a" stroke-width="6.18" stroke-linecap="round"/>
<line x1="294.43" y1="66.64" x2="294.25" y2="73.02" stroke="#e8eef0" stroke-width="5.28" stroke-linecap="round"/>
<line x1="293.24" y1="66.61" x2="293.06" y2="72.99" stroke="#ffffff" stroke-width="1.58" stroke-linecap="round"/>
<line x1="295.88" y1="66.68" x2="295.70" y2="73.06" stroke="#b3bfc4" stroke-width="2.22" stroke-linecap="round"/>
<line x1="296.67" y1="66.71" x2="296.49" y2="73.08" stroke="#56646a" stroke-width="1.06" stroke-linecap="round"/>
<line x1="287.82" y1="67.80" x2="287.52" y2="74.19" stroke="#46525a" stroke-width="5.82" stroke-linecap="round"/>
<line x1="287.52" y1="67.79" x2="287.22" y2="74.17" stroke="#e8eef0" stroke-width="4.92" stroke-linecap="round"/>
<line x1="286.42" y1="67.74" x2="286.11" y2="74.12" stroke="#ffffff" stroke-width="1.48" stroke-linecap="round"/>
<line x1="288.87" y1="67.85" x2="288.57" y2="74.24" stroke="#b3bfc4" stroke-width="2.07" stroke-linecap="round"/>
<line x1="289.61" y1="67.89" x2="289.30" y2="74.27" stroke="#56646a" stroke-width="0.98" stroke-linecap="round"/>
<line x1="281.53" y1="69.52" x2="281.11" y2="75.91" stroke="#46525a" stroke-width="5.28" stroke-linecap="round"/>
<line x1="281.23" y1="69.50" x2="280.81" y2="75.89" stroke="#e8eef0" stroke-width="4.38" stroke-linecap="round"/>
<line x1="280.25" y1="69.43" x2="279.83" y2="75.82" stroke="#ffffff" stroke-width="1.31" stroke-linecap="round"/>
<line x1="282.43" y1="69.58" x2="282.01" y2="75.97" stroke="#b3bfc4" stroke-width="1.84" stroke-linecap="round"/>
<line x1="283.09" y1="69.62" x2="282.67" y2="76.01" stroke="#56646a" stroke-width="0.88" stroke-linecap="round"/>
<line x1="276.08" y1="71.73" x2="275.56" y2="78.13" stroke="#46525a" stroke-width="4.58" stroke-linecap="round"/>
<line x1="275.78" y1="71.70" x2="275.26" y2="78.10" stroke="#e8eef0" stroke-width="3.68" stroke-linecap="round"/>
<line x1="274.96" y1="71.64" x2="274.44" y2="78.04" stroke="#ffffff" stroke-width="1.10" stroke-linecap="round"/>
<line x1="276.79" y1="71.78" x2="276.27" y2="78.18" stroke="#b3bfc4" stroke-width="1.54" stroke-linecap="round"/>
<line x1="277.34" y1="71.83" x2="276.82" y2="78.23" stroke="#56646a" stroke-width="0.74" stroke-linecap="round"/>
<line x1="271.67" y1="74.35" x2="271.07" y2="80.77" stroke="#46525a" stroke-width="3.74" stroke-linecap="round"/>
<line x1="271.37" y1="74.33" x2="270.77" y2="80.74" stroke="#e8eef0" stroke-width="2.84" stroke-linecap="round"/>
<line x1="270.73" y1="74.27" x2="270.13" y2="80.68" stroke="#ffffff" stroke-width="0.85" stroke-linecap="round"/>
<line x1="272.15" y1="74.40" x2="271.55" y2="80.81" stroke="#b3bfc4" stroke-width="1.19" stroke-linecap="round"/>
<line x1="272.57" y1="74.44" x2="271.97" y2="80.85" stroke="#56646a" stroke-width="0.57" stroke-linecap="round"/>
<line x1="268.45" y1="77.30" x2="267.79" y2="83.73" stroke="#46525a" stroke-width="2.90" stroke-linecap="round"/>
<line x1="268.15" y1="77.27" x2="267.50" y2="83.70" stroke="#e8eef0" stroke-width="2.00" stroke-linecap="round"/>
<line x1="267.70" y1="77.23" x2="267.05" y2="83.65" stroke="#ffffff" stroke-width="0.60" stroke-linecap="round"/>
<line x1="268.70" y1="77.33" x2="268.04" y2="83.75" stroke="#b3bfc4" stroke-width="0.84" stroke-linecap="round"/>
<line x1="269.00" y1="77.36" x2="268.34" y2="83.78" stroke="#56646a" stroke-width="0.40" stroke-linecap="round"/>
<line x1="266.55" y1="80.47" x2="265.86" y2="86.91" stroke="#46525a" stroke-width="2.90" stroke-linecap="round"/>
<line x1="266.25" y1="80.44" x2="265.56" y2="86.88" stroke="#e8eef0" stroke-width="2.00" stroke-linecap="round"/>
<line x1="265.80" y1="80.39" x2="265.11" y2="86.83" stroke="#ffffff" stroke-width="0.60" stroke-linecap="round"/>
<line x1="266.80" y1="80.50" x2="266.11" y2="86.94" stroke="#b3bfc4" stroke-width="0.84" stroke-linecap="round"/>
<line x1="267.10" y1="80.53" x2="266.41" y2="86.97" stroke="#56646a" stroke-width="0.40" stroke-linecap="round"/>
<polygon points="342.06,83.07 341.53,82.38 340.94,81.69 340.28,81.02 339.56,80.36 338.77,79.72 337.93,79.09 337.02,78.47 336.06,77.87 335.04,77.30 333.96,76.74 332.83,76.20 331.65,75.68 330.43,75.19 329.15,74.72 327.83,74.27 326.47,73.85 325.07,73.45 323.63,73.08 322.16,72.74 320.66,72.42 319.13,72.14 317.57,71.88 315.99,71.65 314.38,71.45 312.76,71.28 311.13,71.14 309.48,71.03 307.83,70.96 306.16,70.91 304.50,70.89 302.84,70.91 301.17,70.96 299.52,71.03 297.87,71.14 296.24,71.28 294.62,71.45 293.01,71.65 291.43,71.88 289.87,72.14 288.34,72.42 286.84,72.74 285.37,73.08 283.93,73.45 282.53,73.85 281.17,74.27 279.85,74.72 278.57,75.19 277.35,75.68 276.17,76.20 275.04,76.74 273.96,77.30 272.94,77.87 271.98,78.47 271.07,79.09 270.23,79.72 269.44,80.36 268.72,81.02 268.06,81.69 267.47,82.38 266.94,83.07 266.44,87.96 266.97,87.26 267.57,86.57 268.23,85.90 268.97,85.24 269.76,84.59 270.62,83.96 271.54,83.34 272.51,82.74 273.55,82.16 274.64,81.60 275.78,81.06 276.98,80.54 278.22,80.05 279.52,79.57 280.85,79.12 282.23,78.70 283.65,78.30 285.11,77.93 286.60,77.59 288.12,77.27 289.68,76.99 291.25,76.73 292.86,76.50 294.48,76.30 296.12,76.13 297.78,75.99 299.45,75.88 301.13,75.80 302.81,75.76 304.50,75.74 306.19,75.76 307.87,75.80 309.55,75.88 311.22,75.99 312.88,76.13 314.52,76.30 316.14,76.50 317.75,76.73 319.32,76.99 320.88,77.27 322.40,77.59 323.89,77.93 325.35,78.30 326.77,78.70 328.15,79.12 329.48,79.57 330.78,80.05 332.02,80.54 333.22,81.06 334.36,81.60 335.45,82.16 336.49,82.74 337.46,83.34 338.38,83.96 339.24,84.59 340.03,85.24 340.77,85.90 341.43,86.57 342.03,87.26 342.56,87.96" fill="#dca653"/>
<line x1="343.26" y1="87.84" x2="344.63" y2="100.70" stroke="#e8eef0" stroke-width="2.00" stroke-linecap="butt"/>
<line x1="342.81" y1="87.88" x2="344.18" y2="100.75" stroke="#ffffff" stroke-width="0.60" stroke-linecap="butt"/>
<line x1="343.81" y1="87.78" x2="345.18" y2="100.65" stroke="#b3bfc4" stroke-width="0.84" stroke-linecap="butt"/>
<line x1="344.11" y1="87.75" x2="345.47" y2="100.62" stroke="#56646a" stroke-width="0.40" stroke-linecap="butt"/>
<line x1="340.96" y1="84.70" x2="342.24" y2="97.54" stroke="#e8eef0" stroke-width="2.40" stroke-linecap="butt"/>
<line x1="340.42" y1="84.75" x2="341.71" y2="97.60" stroke="#ffffff" stroke-width="0.72" stroke-linecap="butt"/>
<line x1="341.61" y1="84.63" x2="342.90" y2="97.48" stroke="#b3bfc4" stroke-width="1.01" stroke-linecap="butt"/>
<line x1="341.97" y1="84.60" x2="343.26" y2="97.44" stroke="#56646a" stroke-width="0.48" stroke-linecap="butt"/>
<line x1="337.34" y1="81.81" x2="338.50" y2="94.63" stroke="#e8eef0" stroke-width="3.41" stroke-linecap="butt"/>
<line x1="336.57" y1="81.88" x2="337.73" y2="94.70" stroke="#ffffff" stroke-width="1.02" stroke-linecap="butt"/>
<line x1="338.27" y1="81.73" x2="339.43" y2="94.54" stroke="#b3bfc4" stroke-width="1.43" stroke-linecap="butt"/>
<line x1="338.78" y1="81.68" x2="339.94" y2="94.50" stroke="#56646a" stroke-width="0.68" stroke-linecap="butt"/>
<line x1="332.53" y1="79.27" x2="333.52" y2="92.07" stroke="#e8eef0" stroke-width="4.30" stroke-linecap="butt"/>
<line x1="331.56" y1="79.35" x2="332.55" y2="92.14" stroke="#ffffff" stroke-width="1.29" stroke-linecap="butt"/>
<line x1="333.71" y1="79.18" x2="334.70" y2="91.98" stroke="#b3bfc4" stroke-width="1.81" stroke-linecap="butt"/>
<line x1="334.35" y1="79.13" x2="335.34" y2="91.93" stroke="#56646a" stroke-width="0.86" stroke-linecap="butt"/>
<line x1="326.71" y1="77.18" x2="327.49" y2="89.95" stroke="#e8eef0" stroke-width="5.04" stroke-linecap="butt"/>
<line x1="325.58" y1="77.25" x2="326.36" y2="90.02" stroke="#ffffff" stroke-width="1.51" stroke-linecap="butt"/>
<line x1="328.09" y1="77.09" x2="328.87" y2="89.87" stroke="#b3bfc4" stroke-width="2.12" stroke-linecap="butt"/>
<line x1="328.84" y1="77.05" x2="329.63" y2="89.82" stroke="#56646a" stroke-width="1.01" stroke-linecap="butt"/>
<line x1="320.08" y1="75.60" x2="320.63" y2="88.36" stroke="#e8eef0" stroke-width="5.59" stroke-linecap="butt"/>
<line x1="318.83" y1="75.66" x2="319.38" y2="88.42" stroke="#ffffff" stroke-width="1.68" stroke-linecap="butt"/>
<line x1="321.62" y1="75.54" x2="322.17" y2="88.30" stroke="#b3bfc4" stroke-width="2.35" stroke-linecap="butt"/>
<line x1="322.46" y1="75.50" x2="323.01" y2="88.26" stroke="#56646a" stroke-width="1.12" stroke-linecap="butt"/>
<line x1="312.90" y1="74.60" x2="313.19" y2="87.36" stroke="#e8eef0" stroke-width="5.94" stroke-linecap="butt"/>
<line x1="311.56" y1="74.63" x2="311.86" y2="87.39" stroke="#ffffff" stroke-width="1.78" stroke-linecap="butt"/>
<line x1="314.53" y1="74.56" x2="314.83" y2="87.32" stroke="#b3bfc4" stroke-width="2.49" stroke-linecap="butt"/>
<line x1="315.42" y1="74.54" x2="315.72" y2="87.30" stroke="#56646a" stroke-width="1.19" stroke-linecap="butt"/>
<line x1="305.41" y1="74.21" x2="305.44" y2="86.96" stroke="#e8eef0" stroke-width="6.08" stroke-linecap="butt"/>
<line x1="307.78" y1="74.21" x2="307.81" y2="86.96" stroke="#5f6c72" stroke-width="1.52" stroke-linecap="butt"/>
<line x1="305.56" y1="74.21" x2="305.59" y2="86.96" stroke="#f41c1c" stroke-width="2.55" stroke-linecap="butt"/>
<line x1="297.88" y1="74.45" x2="297.65" y2="87.20" stroke="#e8eef0" stroke-width="5.99" stroke-linecap="butt"/>
<line x1="300.22" y1="74.50" x2="299.99" y2="87.25" stroke="#5f6c72" stroke-width="1.50" stroke-linecap="butt"/>
<line x1="298.03" y1="74.46" x2="297.80" y2="87.21" stroke="#f41c1c" stroke-width="2.52" stroke-linecap="butt"/>
<line x1="290.60" y1="75.31" x2="290.11" y2="88.07" stroke="#e8eef0" stroke-width="5.69" stroke-linecap="butt"/>
<line x1="289.32" y1="75.26" x2="288.83" y2="88.02" stroke="#ffffff" stroke-width="1.71" stroke-linecap="butt"/>
<line x1="292.16" y1="75.37" x2="291.67" y2="88.13" stroke="#b3bfc4" stroke-width="2.39" stroke-linecap="butt"/>
<line x1="293.02" y1="75.40" x2="292.53" y2="88.16" stroke="#56646a" stroke-width="1.14" stroke-linecap="butt"/>
<line x1="283.82" y1="76.75" x2="283.09" y2="89.52" stroke="#e8eef0" stroke-width="5.19" stroke-linecap="butt"/>
<line x1="282.65" y1="76.68" x2="281.92" y2="89.46" stroke="#ffffff" stroke-width="1.56" stroke-linecap="butt"/>
<line x1="285.24" y1="76.83" x2="284.51" y2="89.60" stroke="#b3bfc4" stroke-width="2.18" stroke-linecap="butt"/>
<line x1="286.02" y1="76.88" x2="285.29" y2="89.65" stroke="#56646a" stroke-width="1.04" stroke-linecap="butt"/>
<line x1="277.78" y1="78.73" x2="276.84" y2="91.52" stroke="#e8eef0" stroke-width="4.49" stroke-linecap="butt"/>
<line x1="276.78" y1="78.65" x2="275.83" y2="91.44" stroke="#ffffff" stroke-width="1.35" stroke-linecap="butt"/>
<line x1="279.02" y1="78.82" x2="278.07" y2="91.61" stroke="#b3bfc4" stroke-width="1.89" stroke-linecap="butt"/>
<line x1="279.69" y1="78.87" x2="278.75" y2="91.66" stroke="#56646a" stroke-width="0.90" stroke-linecap="butt"/>
<line x1="272.72" y1="81.17" x2="271.59" y2="93.98" stroke="#e8eef0" stroke-width="3.64" stroke-linecap="butt"/>
<line x1="271.90" y1="81.09" x2="270.78" y2="93.90" stroke="#ffffff" stroke-width="1.09" stroke-linecap="butt"/>
<line x1="273.71" y1="81.25" x2="272.59" y2="94.06" stroke="#b3bfc4" stroke-width="1.53" stroke-linecap="butt"/>
<line x1="274.26" y1="81.30" x2="273.13" y2="94.11" stroke="#56646a" stroke-width="0.73" stroke-linecap="butt"/>
<line x1="268.80" y1="83.98" x2="267.54" y2="96.81" stroke="#e8eef0" stroke-width="2.65" stroke-linecap="butt"/>
<line x1="268.20" y1="83.92" x2="266.94" y2="96.76" stroke="#ffffff" stroke-width="0.80" stroke-linecap="butt"/>
<line x1="269.52" y1="84.05" x2="268.26" y2="96.89" stroke="#b3bfc4" stroke-width="1.11" stroke-linecap="butt"/>
<line x1="269.92" y1="84.09" x2="268.66" y2="96.92" stroke="#56646a" stroke-width="0.53" stroke-linecap="butt"/>
<line x1="266.17" y1="87.07" x2="264.81" y2="99.93" stroke="#e8eef0" stroke-width="2.00" stroke-linecap="butt"/>
<line x1="265.72" y1="87.02" x2="264.37" y2="99.88" stroke="#ffffff" stroke-width="0.60" stroke-linecap="butt"/>
<line x1="266.71" y1="87.13" x2="265.36" y2="99.99" stroke="#b3bfc4" stroke-width="0.84" stroke-linecap="butt"/>
<line x1="267.01" y1="87.16" x2="265.66" y2="100.02" stroke="#56646a" stroke-width="0.40" stroke-linecap="butt"/>
<line x1="264.92" y1="90.32" x2="263.53" y2="103.21" stroke="#e8eef0" stroke-width="2.00" stroke-linecap="butt"/>
<line x1="264.48" y1="90.27" x2="263.08" y2="103.16" stroke="#ffffff" stroke-width="0.60" stroke-linecap="butt"/>
<line x1="265.47" y1="90.38" x2="264.07" y2="103.27" stroke="#b3bfc4" stroke-width="0.84" stroke-linecap="butt"/>
<line x1="265.77" y1="90.41" x2="264.37" y2="103.30" stroke="#56646a" stroke-width="0.40" stroke-linecap="butt"/>
<path d="M263.50,108.20 L263.54,105.54 L263.65,103.98 L263.84,102.68 L264.10,101.53 L264.44,100.48 L264.85,99.52 L265.34,98.61 L265.90,97.77 L266.54,96.98 L267.25,96.23 L268.04,95.53 L268.90,94.87 L269.84,94.25 L270.86,93.66 L271.96,93.12 L273.13,92.61 L274.39,92.14 L275.73,91.70 L277.16,91.30 L278.67,90.94 L280.28,90.61 L281.99,90.31 L283.81,90.05 L285.76,89.83 L287.85,89.63 L290.11,89.48 L292.60,89.36 L295.40,89.27 L298.76,89.22 L304.50,89.20 L310.24,89.22 L313.60,89.27 L316.40,89.36 L318.89,89.48 L321.15,89.63 L323.24,89.83 L325.19,90.05 L327.01,90.31 L328.72,90.61 L330.33,90.94 L331.84,91.30 L333.27,91.70 L334.61,92.14 L335.87,92.61 L337.04,93.12 L338.14,93.66 L339.16,94.25 L340.10,94.87 L340.96,95.53 L341.75,96.23 L342.46,96.98 L343.10,97.77 L343.66,98.61 L344.15,99.52 L344.56,100.48 L344.90,101.53 L345.16,102.68 L345.35,103.98 L345.46,105.54 L345.50,108.20 A41.00,19.00 0 0 1 263.50,108.20 Z" fill="#b4bec2" stroke="#3d494f" stroke-width="1.1"/>
<path d="M265.00,108.20 L265.04,105.72 L265.14,104.27 L265.32,103.06 L265.58,101.99 L265.90,101.01 L266.30,100.11 L266.77,99.27 L267.31,98.48 L267.92,97.74 L268.61,97.05 L269.37,96.40 L270.20,95.78 L271.11,95.20 L272.09,94.66 L273.15,94.15 L274.28,93.68 L275.49,93.24 L276.78,92.83 L278.16,92.46 L279.62,92.12 L281.17,91.81 L282.82,91.54 L284.57,91.29 L286.45,91.08 L288.46,90.90 L290.64,90.76 L293.03,90.65 L295.73,90.56 L298.97,90.52 L304.50,90.50 L310.03,90.52 L313.27,90.56 L315.97,90.65 L318.36,90.76 L320.54,90.90 L322.55,91.08 L324.43,91.29 L326.18,91.54 L327.83,91.81 L329.38,92.12 L330.84,92.46 L332.22,92.83 L333.51,93.24 L334.72,93.68 L335.85,94.15 L336.91,94.66 L337.89,95.20 L338.80,95.78 L339.63,96.40 L340.39,97.05 L341.08,97.74 L341.69,98.48 L342.23,99.27 L342.70,100.11 L343.10,101.01 L343.42,101.99 L343.68,103.06 L343.86,104.27 L343.96,105.72 L344.00,108.20 A39.50,17.70 0 0 1 265.00,108.20 Z" fill="none" stroke="#e8edef" stroke-width="1.3"/>
<path d="M335.51,99.08 A35.40,16.75 0 1 1 274.19,99.08" fill="none" stroke="#76848a" stroke-width="2.6"/>
<path d="M335.51,99.08 A35.40,16.75 0 1 1 274.19,99.08" fill="none" stroke="#eef2f4" stroke-width="1.8" stroke-dasharray="1.6 1.5"/>
<ellipse cx="305.2" cy="105.7" rx="30.8" ry="15.3" fill="none" stroke="#d5dcdf" stroke-width="1.2"/>
<linearGradient id="bg2" x1="0" x2="1" y1="0" y2="0"><stop offset="0" stop-color="#1e2a2e"/><stop offset="0.1" stop-color="#0a1114"/><stop offset="0.23" stop-color="#33434a"/><stop offset="0.39" stop-color="#d5dde0"/><stop offset="0.45" stop-color="#f4f7f8"/><stop offset="0.51" stop-color="#94a1a6"/><stop offset="0.58" stop-color="#c5ced2"/><stop offset="0.65" stop-color="#8a979c"/><stop offset="0.93" stop-color="#34414a"/><stop offset="1" stop-color="#56646a"/></linearGradient>
<clipPath id="bc2"><ellipse cx="305.2" cy="105.7" rx="29.5" ry="14.2"/></clipPath>
<ellipse cx="305.2" cy="105.7" rx="29.5" ry="14.2" fill="url(#bg2)"/>
<ellipse cx="305.2" cy="105.7" rx="29.5" ry="14.2" fill="url(#borev)" stroke="#2e383d" stroke-width="0.9"/>
<ellipse clip-path="url(#bc2)" cx="306.0" cy="89.7" rx="32.5" ry="14.2" fill="#ffffff"/>
<path d="M396.15,49.36 L396.20,48.62 L396.35,47.88 L396.59,47.15 L396.93,46.42 L397.37,45.70 L397.90,44.99 L398.53,44.29 L399.25,43.60 L400.06,42.93 L400.95,42.28 L401.93,41.65 L403.00,41.04 L404.14,40.45 L405.36,39.89 L406.65,39.35 L408.01,38.84 L409.44,38.36 L410.93,37.91 L412.47,37.49 L414.07,37.10 L415.72,36.75 L417.42,36.43 L419.15,36.14 L420.92,35.90 L422.72,35.69 L424.55,35.51 L426.39,35.38 L428.25,35.28 L430.12,35.22 L432.00,35.20 L433.88,35.22 L435.75,35.28 L437.61,35.38 L439.45,35.51 L441.28,35.69 L443.08,35.90 L444.85,36.14 L446.58,36.43 L448.28,36.75 L449.93,37.10 L451.53,37.49 L453.07,37.91 L454.56,38.36 L455.99,38.84 L457.35,39.35 L458.64,39.89 L459.86,40.45 L461.00,41.04 L462.07,41.65 L463.05,42.28 L463.94,42.93 L464.75,43.60 L465.47,44.29 L466.10,44.99 L466.63,45.70 L467.07,46.42 L467.41,47.15 L467.65,47.88 L467.80,48.62 L467.85,49.36 L470.00,70.00 L470.00,72.00 A38.00,16.00 0 0 1 394.00,72.00 L394.00,70.00 Z" fill="#9aa6ab" stroke="#2c363b" stroke-width="1.3"/>
<polygon points="467.85,49.36 467.80,48.62 467.65,47.88 467.41,47.15 467.07,46.42 466.63,45.70 466.10,44.99 465.47,44.29 464.75,43.60 463.94,42.93 463.05,42.28 462.07,41.65 461.00,41.04 459.86,40.45 458.64,39.89 457.35,39.35 455.99,38.84 454.56,38.36 453.07,37.91 451.53,37.49 449.93,37.10 448.28,36.75 446.58,36.43 444.85,36.14 443.08,35.90 441.28,35.69 439.45,35.51 437.61,35.38 435.75,35.28 433.88,35.22 432.00,35.20 430.12,35.22 428.25,35.28 426.39,35.38 424.55,35.51 422.72,35.69 420.92,35.90 419.15,36.14 417.42,36.43 415.72,36.75 414.07,37.10 412.47,37.49 410.93,37.91 409.44,38.36 408.01,38.84 406.65,39.35 405.36,39.89 404.14,40.45 403.00,41.04 401.93,41.65 400.95,42.28 400.06,42.93 399.25,43.60 398.53,44.29 397.90,44.99 397.37,45.70 396.93,46.42 396.59,47.15 396.35,47.88 396.20,48.62 396.15,49.36 394.00,70.00 394.05,69.24 394.21,68.48 394.47,67.73 394.83,66.99 395.29,66.25 395.86,65.52 396.52,64.80 397.29,64.10 398.14,63.42 399.09,62.75 400.13,62.10 401.26,61.48 402.47,60.87 403.76,60.30 405.13,59.75 406.57,59.22 408.09,58.73 409.66,58.27 411.30,57.84 413.00,57.44 414.75,57.08 416.54,56.75 418.38,56.46 420.26,56.21 422.16,55.99 424.10,55.82 426.06,55.68 428.03,55.58 430.01,55.52 432.00,55.50 433.99,55.52 435.97,55.58 437.94,55.68 439.90,55.82 441.84,55.99 443.74,56.21 445.62,56.46 447.46,56.75 449.25,57.08 451.00,57.44 452.70,57.84 454.34,58.27 455.91,58.73 457.43,59.22 458.87,59.75 460.24,60.30 461.53,60.87 462.74,61.48 463.87,62.10 464.91,62.75 465.86,63.42 466.71,64.10 467.48,64.80 468.14,65.52 468.71,66.25 469.17,66.99 469.53,67.73 469.79,68.48 469.95,69.24 470.00,70.00" fill="url(#bandg)"/>
<polygon points="466.41,44.97 465.95,44.39 465.43,43.82 464.85,43.25 464.20,42.70 463.50,42.16 462.74,41.63 461.92,41.11 461.05,40.61 460.12,40.12 459.14,39.66 458.11,39.20 457.04,38.77 455.91,38.35 454.74,37.95 453.53,37.58 452.28,37.22 451.00,36.89 449.67,36.58 448.32,36.29 446.93,36.02 445.52,35.78 444.08,35.56 442.62,35.37 441.14,35.20 439.64,35.06 438.13,34.94 436.61,34.85 435.08,34.78 433.54,34.75 432.00,34.73 430.46,34.75 428.92,34.78 427.39,34.85 425.87,34.94 424.36,35.06 422.86,35.20 421.38,35.37 419.92,35.56 418.48,35.78 417.07,36.02 415.68,36.29 414.33,36.58 413.00,36.89 411.72,37.22 410.47,37.58 409.26,37.95 408.09,38.35 406.96,38.77 405.89,39.20 404.86,39.66 403.88,40.12 402.95,40.61 402.08,41.11 401.26,41.63 400.50,42.16 399.80,42.70 399.15,43.25 398.57,43.82 398.05,44.39 397.59,44.97 396.68,54.05 397.15,53.46 397.68,52.88 398.28,52.31 398.94,51.75 399.66,51.21 400.44,50.67 401.28,50.15 402.18,49.64 403.13,49.15 404.14,48.68 405.19,48.22 406.30,47.78 407.45,47.36 408.65,46.96 409.89,46.58 411.18,46.22 412.50,45.88 413.86,45.56 415.25,45.27 416.67,45.00 418.12,44.76 419.60,44.54 421.10,44.34 422.62,44.17 424.15,44.03 425.71,43.91 427.27,43.82 428.84,43.75 430.42,43.71 432.00,43.70 433.58,43.71 435.16,43.75 436.73,43.82 438.29,43.91 439.85,44.03 441.38,44.17 442.90,44.34 444.40,44.54 445.88,44.76 447.33,45.00 448.75,45.27 450.14,45.56 451.50,45.88 452.82,46.22 454.11,46.58 455.35,46.96 456.55,47.36 457.70,47.78 458.81,48.22 459.86,48.68 460.87,49.15 461.82,49.64 462.72,50.15 463.56,50.67 464.34,51.21 465.06,51.75 465.72,52.31 466.32,52.88 466.85,53.46 467.32,54.05" fill="#c99042"/>
<line x1="467.98" y1="48.09" x2="468.65" y2="54.56" stroke="#46525a" stroke-width="2.90" stroke-linecap="round"/>
<line x1="467.68" y1="48.12" x2="468.35" y2="54.59" stroke="#e8eef0" stroke-width="2.00" stroke-linecap="round"/>
<line x1="467.23" y1="48.17" x2="467.90" y2="54.64" stroke="#ffffff" stroke-width="0.60" stroke-linecap="round"/>
<line x1="468.23" y1="48.06" x2="468.90" y2="54.53" stroke="#b3bfc4" stroke-width="0.84" stroke-linecap="round"/>
<line x1="468.52" y1="48.03" x2="469.20" y2="54.50" stroke="#56646a" stroke-width="0.40" stroke-linecap="round"/>
<line x1="466.42" y1="45.19" x2="467.06" y2="51.64" stroke="#46525a" stroke-width="2.90" stroke-linecap="round"/>
<line x1="466.12" y1="45.22" x2="466.76" y2="51.67" stroke="#e8eef0" stroke-width="2.00" stroke-linecap="round"/>
<line x1="465.67" y1="45.27" x2="466.31" y2="51.72" stroke="#ffffff" stroke-width="0.60" stroke-linecap="round"/>
<line x1="466.67" y1="45.17" x2="467.31" y2="51.62" stroke="#b3bfc4" stroke-width="0.84" stroke-linecap="round"/>
<line x1="466.96" y1="45.14" x2="467.61" y2="51.59" stroke="#56646a" stroke-width="0.40" stroke-linecap="round"/>
<line x1="463.37" y1="42.49" x2="463.95" y2="48.92" stroke="#46525a" stroke-width="3.67" stroke-linecap="round"/>
<line x1="463.07" y1="42.52" x2="463.65" y2="48.95" stroke="#e8eef0" stroke-width="2.77" stroke-linecap="round"/>
<line x1="462.45" y1="42.58" x2="463.03" y2="49.00" stroke="#ffffff" stroke-width="0.83" stroke-linecap="round"/>
<line x1="463.83" y1="42.45" x2="464.41" y2="48.88" stroke="#b3bfc4" stroke-width="1.16" stroke-linecap="round"/>
<line x1="464.24" y1="42.41" x2="464.83" y2="48.84" stroke="#56646a" stroke-width="0.55" stroke-linecap="round"/>
<line x1="458.96" y1="40.10" x2="459.46" y2="46.51" stroke="#46525a" stroke-width="4.61" stroke-linecap="round"/>
<line x1="458.66" y1="40.13" x2="459.16" y2="46.53" stroke="#e8eef0" stroke-width="3.71" stroke-linecap="round"/>
<line x1="457.83" y1="40.19" x2="458.33" y2="46.60" stroke="#ffffff" stroke-width="1.11" stroke-linecap="round"/>
<line x1="459.68" y1="40.05" x2="460.18" y2="46.45" stroke="#b3bfc4" stroke-width="1.56" stroke-linecap="round"/>
<line x1="460.23" y1="40.00" x2="460.73" y2="46.41" stroke="#56646a" stroke-width="0.74" stroke-linecap="round"/>
<line x1="453.39" y1="38.13" x2="453.78" y2="44.52" stroke="#46525a" stroke-width="5.38" stroke-linecap="round"/>
<line x1="453.09" y1="38.14" x2="453.48" y2="44.54" stroke="#e8eef0" stroke-width="4.48" stroke-linecap="round"/>
<line x1="452.08" y1="38.21" x2="452.48" y2="44.60" stroke="#ffffff" stroke-width="1.35" stroke-linecap="round"/>
<line x1="454.32" y1="38.07" x2="454.71" y2="44.46" stroke="#b3bfc4" stroke-width="1.88" stroke-linecap="round"/>
<line x1="454.99" y1="38.03" x2="455.39" y2="44.42" stroke="#56646a" stroke-width="0.90" stroke-linecap="round"/>
<line x1="446.89" y1="36.65" x2="447.17" y2="43.03" stroke="#46525a" stroke-width="5.96" stroke-linecap="round"/>
<line x1="446.59" y1="36.66" x2="446.87" y2="43.05" stroke="#e8eef0" stroke-width="5.06" stroke-linecap="round"/>
<line x1="445.45" y1="36.71" x2="445.73" y2="43.09" stroke="#ffffff" stroke-width="1.52" stroke-linecap="round"/>
<line x1="447.98" y1="36.60" x2="448.26" y2="42.99" stroke="#b3bfc4" stroke-width="2.13" stroke-linecap="round"/>
<line x1="448.74" y1="36.57" x2="449.02" y2="42.95" stroke="#56646a" stroke-width="1.01" stroke-linecap="round"/>
<line x1="439.76" y1="35.74" x2="439.90" y2="42.12" stroke="#46525a" stroke-width="6.32" stroke-linecap="round"/>
<line x1="439.46" y1="35.75" x2="439.60" y2="42.12" stroke="#e8eef0" stroke-width="5.42" stroke-linecap="round"/>
<line x1="438.24" y1="35.78" x2="438.38" y2="42.15" stroke="#ffffff" stroke-width="1.63" stroke-linecap="round"/>
<line x1="440.95" y1="35.72" x2="441.09" y2="42.09" stroke="#b3bfc4" stroke-width="2.28" stroke-linecap="round"/>
<line x1="441.76" y1="35.70" x2="441.90" y2="42.07" stroke="#56646a" stroke-width="1.08" stroke-linecap="round"/>
<line x1="432.30" y1="35.44" x2="432.30" y2="41.81" stroke="#46525a" stroke-width="6.44" stroke-linecap="round"/>
<line x1="432.00" y1="35.44" x2="432.00" y2="41.81" stroke="#e8eef0" stroke-width="5.54" stroke-linecap="round"/>
<line x1="430.75" y1="35.44" x2="430.75" y2="41.81" stroke="#ffffff" stroke-width="1.66" stroke-linecap="round"/>
<line x1="433.52" y1="35.44" x2="433.52" y2="41.81" stroke="#b3bfc4" stroke-width="2.33" stroke-linecap="round"/>
<line x1="434.36" y1="35.44" x2="434.36" y2="41.81" stroke="#56646a" stroke-width="1.11" stroke-linecap="round"/>
<line x1="424.84" y1="35.76" x2="424.70" y2="42.13" stroke="#46525a" stroke-width="6.32" stroke-linecap="round"/>
<line x1="424.54" y1="35.75" x2="424.40" y2="42.12" stroke="#e8eef0" stroke-width="5.42" stroke-linecap="round"/>
<line x1="423.32" y1="35.72" x2="423.18" y2="42.10" stroke="#ffffff" stroke-width="1.63" stroke-linecap="round"/>
<line x1="426.03" y1="35.78" x2="425.89" y2="42.16" stroke="#b3bfc4" stroke-width="2.28" stroke-linecap="round"/>
<line x1="426.84" y1="35.80" x2="426.70" y2="42.17" stroke="#56646a" stroke-width="1.08" stroke-linecap="round"/>
<line x1="417.71" y1="36.68" x2="417.43" y2="43.06" stroke="#46525a" stroke-width="5.96" stroke-linecap="round"/>
<line x1="417.41" y1="36.66" x2="417.13" y2="43.05" stroke="#e8eef0" stroke-width="5.06" stroke-linecap="round"/>
<line x1="416.27" y1="36.62" x2="416.00" y2="43.00" stroke="#ffffff" stroke-width="1.52" stroke-linecap="round"/>
<line x1="418.80" y1="36.72" x2="418.52" y2="43.11" stroke="#b3bfc4" stroke-width="2.13" stroke-linecap="round"/>
<line x1="419.56" y1="36.76" x2="419.28" y2="43.14" stroke="#56646a" stroke-width="1.01" stroke-linecap="round"/>
<line x1="411.21" y1="38.16" x2="410.82" y2="44.56" stroke="#46525a" stroke-width="5.38" stroke-linecap="round"/>
<line x1="410.91" y1="38.14" x2="410.52" y2="44.54" stroke="#e8eef0" stroke-width="4.48" stroke-linecap="round"/>
<line x1="409.91" y1="38.08" x2="409.51" y2="44.47" stroke="#ffffff" stroke-width="1.35" stroke-linecap="round"/>
<line x1="412.14" y1="38.22" x2="411.75" y2="44.61" stroke="#b3bfc4" stroke-width="1.88" stroke-linecap="round"/>
<line x1="412.81" y1="38.26" x2="412.42" y2="44.65" stroke="#56646a" stroke-width="0.90" stroke-linecap="round"/>
<line x1="405.64" y1="40.15" x2="405.14" y2="46.56" stroke="#46525a" stroke-width="4.61" stroke-linecap="round"/>
<line x1="405.34" y1="40.13" x2="404.84" y2="46.53" stroke="#e8eef0" stroke-width="3.71" stroke-linecap="round"/>
<line x1="404.51" y1="40.06" x2="404.01" y2="46.47" stroke="#ffffff" stroke-width="1.11" stroke-linecap="round"/>
<line x1="406.36" y1="40.20" x2="405.85" y2="46.61" stroke="#b3bfc4" stroke-width="1.56" stroke-linecap="round"/>
<line x1="406.91" y1="40.25" x2="406.41" y2="46.66" stroke="#56646a" stroke-width="0.74" stroke-linecap="round"/>
<line x1="401.23" y1="42.55" x2="400.65" y2="48.97" stroke="#46525a" stroke-width="3.67" stroke-linecap="round"/>
<line x1="400.93" y1="42.52" x2="400.35" y2="48.95" stroke="#e8eef0" stroke-width="2.77" stroke-linecap="round"/>
<line x1="400.31" y1="42.46" x2="399.73" y2="48.89" stroke="#ffffff" stroke-width="0.83" stroke-linecap="round"/>
<line x1="401.69" y1="42.59" x2="401.11" y2="49.02" stroke="#b3bfc4" stroke-width="1.16" stroke-linecap="round"/>
<line x1="402.10" y1="42.63" x2="401.52" y2="49.05" stroke="#56646a" stroke-width="0.55" stroke-linecap="round"/>
<line x1="398.18" y1="45.25" x2="397.54" y2="51.70" stroke="#46525a" stroke-width="2.90" stroke-linecap="round"/>
<line x1="397.88" y1="45.22" x2="397.24" y2="51.67" stroke="#e8eef0" stroke-width="2.00" stroke-linecap="round"/>
<line x1="397.43" y1="45.18" x2="396.79" y2="51.63" stroke="#ffffff" stroke-width="0.60" stroke-linecap="round"/>
<line x1="398.43" y1="45.28" x2="397.79" y2="51.73" stroke="#b3bfc4" stroke-width="0.84" stroke-linecap="round"/>
<line x1="398.73" y1="45.31" x2="398.08" y2="51.76" stroke="#56646a" stroke-width="0.40" stroke-linecap="round"/>
<line x1="396.62" y1="48.15" x2="395.95" y2="54.62" stroke="#46525a" stroke-width="2.90" stroke-linecap="round"/>
<line x1="396.32" y1="48.12" x2="395.65" y2="54.59" stroke="#e8eef0" stroke-width="2.00" stroke-linecap="round"/>
<line x1="395.87" y1="48.07" x2="395.20" y2="54.54" stroke="#ffffff" stroke-width="0.60" stroke-linecap="round"/>
<line x1="396.87" y1="48.18" x2="396.20" y2="54.65" stroke="#b3bfc4" stroke-width="0.84" stroke-linecap="round"/>
<line x1="397.17" y1="48.21" x2="396.50" y2="54.68" stroke="#56646a" stroke-width="0.40" stroke-linecap="round"/>
<polygon points="466.77,50.43 466.29,49.86 465.74,49.29 465.13,48.74 464.46,48.20 463.74,47.66 462.95,47.14 462.11,46.64 461.22,46.15 460.28,45.67 459.28,45.21 458.23,44.77 457.14,44.34 456.00,43.93 454.82,43.54 453.60,43.18 452.34,42.83 451.05,42.50 449.72,42.20 448.35,41.91 446.96,41.65 445.54,41.42 444.10,41.21 442.64,41.02 441.15,40.85 439.65,40.71 438.14,40.60 436.61,40.51 435.08,40.45 433.54,40.41 432.00,40.40 430.46,40.41 428.92,40.45 427.39,40.51 425.86,40.60 424.35,40.71 422.85,40.85 421.36,41.02 419.90,41.21 418.46,41.42 417.04,41.65 415.65,41.91 414.28,42.20 412.95,42.50 411.66,42.83 410.40,43.18 409.18,43.54 408.00,43.93 406.86,44.34 405.77,44.77 404.72,45.21 403.72,45.67 402.78,46.15 401.89,46.64 401.05,47.14 400.26,47.66 399.54,48.20 398.87,48.74 398.26,49.29 397.71,49.86 397.23,50.43 396.84,54.25 397.34,53.68 397.89,53.11 398.51,52.55 399.18,52.01 399.92,51.47 400.71,50.95 401.56,50.44 402.46,49.95 403.41,49.47 404.42,49.01 405.48,48.56 406.58,48.13 407.73,47.72 408.92,47.33 410.16,46.96 411.43,46.62 412.74,46.29 414.09,45.98 415.47,45.70 416.87,45.44 418.31,45.20 419.77,44.99 421.25,44.80 422.75,44.63 424.26,44.49 425.79,44.38 427.34,44.29 428.89,44.22 430.44,44.18 432.00,44.17 433.56,44.18 435.11,44.22 436.66,44.29 438.21,44.38 439.74,44.49 441.25,44.63 442.75,44.80 444.23,44.99 445.69,45.20 447.13,45.44 448.53,45.70 449.91,45.98 451.26,46.29 452.57,46.62 453.84,46.96 455.08,47.33 456.27,47.72 457.42,48.13 458.52,48.56 459.58,49.01 460.59,49.47 461.54,49.95 462.44,50.44 463.29,50.95 464.08,51.47 464.82,52.01 465.49,52.55 466.11,53.11 466.66,53.68 467.16,54.25" fill="#dca653"/>
<line x1="467.87" y1="54.31" x2="469.07" y2="66.03" stroke="#e8eef0" stroke-width="2.00" stroke-linecap="butt"/>
<line x1="467.43" y1="54.36" x2="468.62" y2="66.07" stroke="#ffffff" stroke-width="0.60" stroke-linecap="butt"/>
<line x1="468.42" y1="54.25" x2="469.62" y2="65.97" stroke="#b3bfc4" stroke-width="0.84" stroke-linecap="butt"/>
<line x1="468.72" y1="54.22" x2="469.92" y2="65.94" stroke="#56646a" stroke-width="0.40" stroke-linecap="butt"/>
<line x1="465.50" y1="51.47" x2="466.62" y2="63.15" stroke="#e8eef0" stroke-width="2.50" stroke-linecap="butt"/>
<line x1="464.94" y1="51.52" x2="466.06" y2="63.20" stroke="#ffffff" stroke-width="0.75" stroke-linecap="butt"/>
<line x1="466.19" y1="51.40" x2="467.31" y2="63.08" stroke="#b3bfc4" stroke-width="1.05" stroke-linecap="butt"/>
<line x1="466.56" y1="51.37" x2="467.68" y2="63.05" stroke="#56646a" stroke-width="0.50" stroke-linecap="butt"/>
<line x1="461.67" y1="48.88" x2="462.66" y2="60.53" stroke="#e8eef0" stroke-width="3.62" stroke-linecap="butt"/>
<line x1="460.86" y1="48.95" x2="461.85" y2="60.60" stroke="#ffffff" stroke-width="1.09" stroke-linecap="butt"/>
<line x1="462.66" y1="48.80" x2="463.65" y2="60.44" stroke="#b3bfc4" stroke-width="1.52" stroke-linecap="butt"/>
<line x1="463.20" y1="48.75" x2="464.19" y2="60.40" stroke="#56646a" stroke-width="0.72" stroke-linecap="butt"/>
<line x1="456.54" y1="46.66" x2="457.36" y2="58.28" stroke="#e8eef0" stroke-width="4.58" stroke-linecap="butt"/>
<line x1="458.32" y1="46.54" x2="459.14" y2="58.15" stroke="#5f6c72" stroke-width="1.14" stroke-linecap="butt"/>
<line x1="456.65" y1="46.65" x2="457.47" y2="58.27" stroke="#f41c1c" stroke-width="1.92" stroke-linecap="butt"/>
<line x1="450.34" y1="44.91" x2="450.95" y2="56.50" stroke="#e8eef0" stroke-width="5.33" stroke-linecap="butt"/>
<line x1="452.41" y1="44.80" x2="453.03" y2="56.39" stroke="#5f6c72" stroke-width="1.33" stroke-linecap="butt"/>
<line x1="450.47" y1="44.90" x2="451.08" y2="56.49" stroke="#f41c1c" stroke-width="2.24" stroke-linecap="butt"/>
<line x1="443.33" y1="43.69" x2="443.71" y2="55.26" stroke="#e8eef0" stroke-width="5.86" stroke-linecap="butt"/>
<line x1="445.62" y1="43.62" x2="445.99" y2="55.19" stroke="#5f6c72" stroke-width="1.46" stroke-linecap="butt"/>
<line x1="443.48" y1="43.69" x2="443.86" y2="55.26" stroke="#f41c1c" stroke-width="2.46" stroke-linecap="butt"/>
<line x1="435.83" y1="43.07" x2="435.96" y2="54.64" stroke="#e8eef0" stroke-width="6.12" stroke-linecap="butt"/>
<line x1="438.22" y1="43.04" x2="438.35" y2="54.61" stroke="#5f6c72" stroke-width="1.53" stroke-linecap="butt"/>
<line x1="435.99" y1="43.07" x2="436.11" y2="54.63" stroke="#f41c1c" stroke-width="2.57" stroke-linecap="butt"/>
<line x1="428.17" y1="43.07" x2="428.04" y2="54.64" stroke="#e8eef0" stroke-width="6.12" stroke-linecap="butt"/>
<line x1="430.55" y1="43.10" x2="430.43" y2="54.66" stroke="#5f6c72" stroke-width="1.53" stroke-linecap="butt"/>
<line x1="428.32" y1="43.07" x2="428.19" y2="54.64" stroke="#f41c1c" stroke-width="2.57" stroke-linecap="butt"/>
<line x1="420.67" y1="43.69" x2="420.29" y2="55.26" stroke="#e8eef0" stroke-width="5.86" stroke-linecap="butt"/>
<line x1="422.95" y1="43.77" x2="422.57" y2="55.34" stroke="#5f6c72" stroke-width="1.46" stroke-linecap="butt"/>
<line x1="420.81" y1="43.70" x2="420.43" y2="55.27" stroke="#f41c1c" stroke-width="2.46" stroke-linecap="butt"/>
<line x1="413.66" y1="44.91" x2="413.05" y2="56.50" stroke="#e8eef0" stroke-width="5.33" stroke-linecap="butt"/>
<line x1="415.74" y1="45.02" x2="415.13" y2="56.61" stroke="#5f6c72" stroke-width="1.33" stroke-linecap="butt"/>
<line x1="413.80" y1="44.91" x2="413.18" y2="56.50" stroke="#f41c1c" stroke-width="2.24" stroke-linecap="butt"/>
<line x1="407.46" y1="46.66" x2="406.64" y2="58.28" stroke="#e8eef0" stroke-width="4.58" stroke-linecap="butt"/>
<line x1="406.43" y1="46.59" x2="405.61" y2="58.20" stroke="#ffffff" stroke-width="1.37" stroke-linecap="butt"/>
<line x1="408.71" y1="46.75" x2="407.90" y2="58.36" stroke="#b3bfc4" stroke-width="1.92" stroke-linecap="butt"/>
<line x1="409.40" y1="46.80" x2="408.58" y2="58.41" stroke="#56646a" stroke-width="0.92" stroke-linecap="butt"/>
<line x1="402.33" y1="48.88" x2="401.34" y2="60.53" stroke="#e8eef0" stroke-width="3.62" stroke-linecap="butt"/>
<line x1="401.52" y1="48.81" x2="400.53" y2="60.46" stroke="#ffffff" stroke-width="1.09" stroke-linecap="butt"/>
<line x1="403.32" y1="48.97" x2="402.33" y2="60.61" stroke="#b3bfc4" stroke-width="1.52" stroke-linecap="butt"/>
<line x1="403.86" y1="49.01" x2="402.87" y2="60.66" stroke="#56646a" stroke-width="0.72" stroke-linecap="butt"/>
<line x1="398.50" y1="51.47" x2="397.38" y2="63.15" stroke="#e8eef0" stroke-width="2.50" stroke-linecap="butt"/>
<line x1="397.93" y1="51.41" x2="396.82" y2="63.10" stroke="#ffffff" stroke-width="0.75" stroke-linecap="butt"/>
<line x1="399.18" y1="51.53" x2="398.06" y2="63.21" stroke="#b3bfc4" stroke-width="1.05" stroke-linecap="butt"/>
<line x1="399.56" y1="51.57" x2="398.44" y2="63.25" stroke="#56646a" stroke-width="0.50" stroke-linecap="butt"/>
<line x1="396.13" y1="54.31" x2="394.93" y2="66.03" stroke="#e8eef0" stroke-width="2.00" stroke-linecap="butt"/>
<line x1="395.68" y1="54.26" x2="394.48" y2="65.98" stroke="#ffffff" stroke-width="0.60" stroke-linecap="butt"/>
<line x1="396.67" y1="54.37" x2="395.48" y2="66.08" stroke="#b3bfc4" stroke-width="0.84" stroke-linecap="butt"/>
<line x1="396.97" y1="54.40" x2="395.77" y2="66.12" stroke="#56646a" stroke-width="0.40" stroke-linecap="butt"/>
<path d="M394.30,72.00 L394.33,69.80 L394.44,68.52 L394.61,67.44 L394.85,66.49 L395.16,65.62 L395.54,64.82 L395.99,64.08 L396.51,63.38 L397.09,62.73 L397.75,62.11 L398.47,61.53 L399.27,60.98 L400.13,60.47 L401.07,59.99 L402.08,59.54 L403.16,59.12 L404.31,58.73 L405.55,58.37 L406.86,58.04 L408.25,57.74 L409.73,57.46 L411.30,57.22 L412.98,57.00 L414.77,56.82 L416.69,56.66 L418.77,56.53 L421.05,56.43 L423.63,56.36 L426.73,56.31 L432.00,56.30 L437.27,56.31 L440.37,56.36 L442.95,56.43 L445.23,56.53 L447.31,56.66 L449.23,56.82 L451.02,57.00 L452.70,57.22 L454.27,57.46 L455.75,57.74 L457.14,58.04 L458.45,58.37 L459.69,58.73 L460.84,59.12 L461.92,59.54 L462.93,59.99 L463.87,60.47 L464.73,60.98 L465.53,61.53 L466.25,62.11 L466.91,62.73 L467.49,63.38 L468.01,64.08 L468.46,64.82 L468.84,65.62 L469.15,66.49 L469.39,67.44 L469.56,68.52 L469.67,69.80 L469.70,72.00 A37.70,15.70 0 0 1 394.30,72.00 Z" fill="#b4bec2" stroke="#3d494f" stroke-width="1.1"/>
<path d="M395.80,72.00 L395.83,69.99 L395.93,68.80 L396.10,67.82 L396.33,66.95 L396.63,66.15 L396.99,65.42 L397.42,64.73 L397.92,64.09 L398.48,63.49 L399.11,62.93 L399.81,62.40 L400.57,61.90 L401.40,61.43 L402.30,60.98 L403.27,60.57 L404.31,60.19 L405.42,59.83 L406.60,59.50 L407.86,59.19 L409.20,58.92 L410.62,58.67 L412.13,58.44 L413.74,58.24 L415.45,58.07 L417.30,57.93 L419.30,57.81 L421.49,57.72 L423.97,57.65 L426.94,57.61 L432.00,57.60 L437.06,57.61 L440.03,57.65 L442.51,57.72 L444.70,57.81 L446.70,57.93 L448.55,58.07 L450.26,58.24 L451.87,58.44 L453.38,58.67 L454.80,58.92 L456.14,59.19 L457.40,59.50 L458.58,59.83 L459.69,60.19 L460.73,60.57 L461.70,60.98 L462.60,61.43 L463.43,61.90 L464.19,62.40 L464.89,62.93 L465.52,63.49 L466.08,64.09 L466.58,64.73 L467.01,65.42 L467.37,66.15 L467.67,66.95 L467.90,67.82 L468.07,68.80 L468.17,69.99 L468.20,72.00 A36.20,14.40 0 0 1 395.80,72.00 Z" fill="none" stroke="#e8edef" stroke-width="1.3"/>
<path d="M461.07,64.51 A33.05,14.72 0 1 1 403.83,64.51" fill="none" stroke="#76848a" stroke-width="2.6"/>
<path d="M461.07,64.51 A33.05,14.72 0 1 1 403.83,64.51" fill="none" stroke="#eef2f4" stroke-width="1.8" stroke-dasharray="1.6 1.5"/>
<ellipse cx="432.9" cy="70.8" rx="29.4" ry="14.5" fill="none" stroke="#d5dcdf" stroke-width="1.2"/>
<linearGradient id="bg3" x1="0" x2="1" y1="0" y2="0"><stop offset="0" stop-color="#1e2a2e"/><stop offset="0.1" stop-color="#0a1114"/><stop offset="0.38" stop-color="#33434a"/><stop offset="0.54" stop-color="#d5dde0"/><stop offset="0.60" stop-color="#f4f7f8"/><stop offset="0.66" stop-color="#94a1a6"/><stop offset="0.73" stop-color="#c5ced2"/><stop offset="0.80" stop-color="#8a979c"/><stop offset="0.93" stop-color="#34414a"/><stop offset="1" stop-color="#56646a"/></linearGradient>
<clipPath id="bc3"><ellipse cx="432.9" cy="70.8" rx="28.1" ry="13.4"/></clipPath>
<ellipse cx="432.9" cy="70.8" rx="28.1" ry="13.4" fill="url(#bg3)"/>
<ellipse cx="432.9" cy="70.8" rx="28.1" ry="13.4" fill="url(#borev)" stroke="#2e383d" stroke-width="0.9"/>
<ellipse clip-path="url(#bc3)" cx="433.7" cy="56.0" rx="30.9" ry="13.4" fill="#ffffff"/>
<g><path d="M216.2,128.6 C226,131.8 240,130.4 253.2,123.6 L258,128.1 L263.3,112.2 L248.3,112 L251.8,117.6 C244,122.8 231,127.9 216.2,128.6 Z" fill="#c9c9d2" transform="translate(1.2,1.2)"/><path d="M216.2,128.6 C226,131.8 240,130.4 253.2,123.6 L258,128.1 L263.3,112.2 L248.3,112 L251.8,117.6 C244,122.8 231,127.9 216.2,128.6 Z" fill="url(#arr)"/></g>
<g transform="translate(129,-38.5)"><path d="M216.2,128.6 C226,131.8 240,130.4 253.2,123.6 L258,128.1 L263.3,112.2 L248.3,112 L251.8,117.6 C244,122.8 231,127.9 216.2,128.6 Z" fill="#c9c9d2" transform="translate(1.2,1.2)"/><path d="M216.2,128.6 C226,131.8 240,130.4 253.2,123.6 L258,128.1 L263.3,112.2 L248.3,112 L251.8,117.6 C244,122.8 231,127.9 216.2,128.6 Z" fill="url(#arr)"/></g>
<rect x="52.2" y="11.3" width="485.6" height="209.2" fill="none" stroke="#1a1a1a" stroke-width="1.4"/>
<line x1="121.6" y1="220.5" x2="121.6" y2="217" stroke="#1a1a1a" stroke-width="1.1"/>
<line x1="121.6" y1="11.3" x2="121.6" y2="14.8" stroke="#1a1a1a" stroke-width="1.1"/>
<line x1="190.9" y1="220.5" x2="190.9" y2="217" stroke="#1a1a1a" stroke-width="1.1"/>
<line x1="190.9" y1="11.3" x2="190.9" y2="14.8" stroke="#1a1a1a" stroke-width="1.1"/>
<line x1="260.3" y1="220.5" x2="260.3" y2="217" stroke="#1a1a1a" stroke-width="1.1"/>
<line x1="260.3" y1="11.3" x2="260.3" y2="14.8" stroke="#1a1a1a" stroke-width="1.1"/>
<line x1="329.7" y1="220.5" x2="329.7" y2="217" stroke="#1a1a1a" stroke-width="1.1"/>
<line x1="329.7" y1="11.3" x2="329.7" y2="14.8" stroke="#1a1a1a" stroke-width="1.1"/>
<line x1="399.1" y1="220.5" x2="399.1" y2="217" stroke="#1a1a1a" stroke-width="1.1"/>
<line x1="399.1" y1="11.3" x2="399.1" y2="14.8" stroke="#1a1a1a" stroke-width="1.1"/>
<line x1="468.4" y1="220.5" x2="468.4" y2="217" stroke="#1a1a1a" stroke-width="1.1"/>
<line x1="468.4" y1="11.3" x2="468.4" y2="14.8" stroke="#1a1a1a" stroke-width="1.1"/>
<line x1="52.2" y1="194.3" x2="55.7" y2="194.3" stroke="#1a1a1a" stroke-width="1.1"/>
<line x1="537.8" y1="194.3" x2="534.3" y2="194.3" stroke="#1a1a1a" stroke-width="1.1"/>
<line x1="52.2" y1="168.2" x2="55.7" y2="168.2" stroke="#1a1a1a" stroke-width="1.1"/>
<line x1="537.8" y1="168.2" x2="534.3" y2="168.2" stroke="#1a1a1a" stroke-width="1.1"/>
<line x1="52.2" y1="142.1" x2="55.7" y2="142.1" stroke="#1a1a1a" stroke-width="1.1"/>
<line x1="537.8" y1="142.1" x2="534.3" y2="142.1" stroke="#1a1a1a" stroke-width="1.1"/>
<line x1="52.2" y1="115.9" x2="55.7" y2="115.9" stroke="#1a1a1a" stroke-width="1.1"/>
<line x1="537.8" y1="115.9" x2="534.3" y2="115.9" stroke="#1a1a1a" stroke-width="1.1"/>
<line x1="52.2" y1="89.8" x2="55.7" y2="89.8" stroke="#1a1a1a" stroke-width="1.1"/>
<line x1="537.8" y1="89.8" x2="534.3" y2="89.8" stroke="#1a1a1a" stroke-width="1.1"/>
<line x1="52.2" y1="63.6" x2="55.7" y2="63.6" stroke="#1a1a1a" stroke-width="1.1"/>
<line x1="537.8" y1="63.6" x2="534.3" y2="63.6" stroke="#1a1a1a" stroke-width="1.1"/>
<line x1="52.2" y1="37.5" x2="55.7" y2="37.5" stroke="#1a1a1a" stroke-width="1.1"/>
<line x1="537.8" y1="37.5" x2="534.3" y2="37.5" stroke="#1a1a1a" stroke-width="1.1"/>
<text x="52.8" y="236.2" font-size="12.6" text-anchor="middle" fill="#1a1a1a">0</text>
<text x="122.2" y="236.2" font-size="12.6" text-anchor="middle" fill="#1a1a1a">1</text>
<text x="191.5" y="236.2" font-size="12.6" text-anchor="middle" fill="#1a1a1a">2</text>
<text x="260.9" y="236.2" font-size="12.6" text-anchor="middle" fill="#1a1a1a">3</text>
<text x="330.3" y="236.2" font-size="12.6" text-anchor="middle" fill="#1a1a1a">4</text>
<text x="399.7" y="236.2" font-size="12.6" text-anchor="middle" fill="#1a1a1a">5</text>
<text x="469.0" y="236.2" font-size="12.6" text-anchor="middle" fill="#1a1a1a">6</text>
<text x="541.3" y="236.2" font-size="12.6" text-anchor="middle" fill="#1a1a1a">7</text>
<text x="46.4" y="224.8" font-size="12.8" text-anchor="end" fill="#1a1a1a">0</text>
<text x="46.4" y="198.7" font-size="12.8" text-anchor="end" fill="#1a1a1a">0.1</text>
<text x="46.4" y="172.5" font-size="12.8" text-anchor="end" fill="#1a1a1a">0.2</text>
<text x="46.4" y="146.4" font-size="12.8" text-anchor="end" fill="#1a1a1a">0.3</text>
<text x="46.4" y="120.2" font-size="12.8" text-anchor="end" fill="#1a1a1a">0.4</text>
<text x="46.4" y="94.0" font-size="12.8" text-anchor="end" fill="#1a1a1a">0.5</text>
<text x="46.4" y="67.9" font-size="12.8" text-anchor="end" fill="#1a1a1a">0.6</text>
<text x="46.4" y="41.8" font-size="12.8" text-anchor="end" fill="#1a1a1a">0.7</text>
<text x="46.4" y="15.6" font-size="12.8" text-anchor="end" fill="#1a1a1a">0.8</text>
<text x="285.2" y="258.6" font-size="14.4" text-anchor="middle" fill="#111" stroke="#111" stroke-width="0.35" textLength="61.2" lengthAdjust="spacingAndGlyphs">Time (day)</text>
<text transform="translate(15.7,122.6) rotate(-90)" font-size="14.6" text-anchor="middle" fill="#111" stroke="#111" stroke-width="0.35">RMS (g)</text>
<polyline points="52.2,168.2 319,168.2" fill="none" stroke="#00a651" stroke-width="2.7"/>
<polyline points="319,167.9 319,137.5 478.5,137.5" fill="none" stroke="#ee6a0a" stroke-width="3"/>
<polyline points="478.5,137.5 478.5,20.8 532.4,20.8" fill="none" stroke="#ff0000" stroke-width="3"/>
<line x1="319" y1="172" x2="319" y2="220" stroke="#111" stroke-width="1.7" stroke-dasharray="2.3 1.5"/>
<line x1="478.5" y1="142" x2="478.5" y2="220" stroke="#111" stroke-width="1.7" stroke-dasharray="2.3 1.5"/>
<polyline points="52.8,199.5 54.4,199.3 55.9,199.7 57.5,199.2 59.1,199.6 60.6,199.4 62.2,199.2 63.7,199.5 65.3,199.1 66.9,199.4 68.4,199.1 70.0,199.1 71.5,199.4 73.1,199.7 74.6,199.2 76.2,199.3 77.7,199.6 79.2,199.9 80.8,199.6 82.3,199.5 83.8,199.9 85.4,199.3 86.9,199.9 88.5,199.5 90.0,199.5 91.5,199.4 93.1,199.5 94.6,199.8 96.2,199.4 97.7,199.6 99.2,199.6 100.8,199.4 102.3,199.5 103.8,199.1 105.4,199.1 106.9,199.2 108.5,199.5 110.0,199.2 111.5,199.2 113.1,199.4 114.6,199.3 116.2,199.3 117.7,199.6 119.2,199.6 120.8,199.3 122.3,199.5 123.8,199.5 125.4,199.8 126.9,199.7 128.5,199.4 130.0,199.9 131.5,199.3 133.1,199.5 134.6,199.7 136.2,199.2 137.7,199.4 139.2,199.1 140.8,199.5 142.3,199.5 143.8,199.4 145.4,199.6 146.9,199.1 148.5,199.4 150.0,199.3 151.5,199.3 153.1,199.2 154.6,199.5 156.2,199.6 157.7,199.3 159.2,199.5 160.8,199.1 162.3,199.5 163.8,199.5 165.4,199.8 166.9,199.7 168.5,199.3 170.0,199.4 171.5,199.6 173.0,199.1 174.5,199.4 176.0,199.2 177.5,199.1 179.0,199.1 180.5,199.5 182.0,199.1 183.5,199.1 185.0,199.2 186.5,199.4 188.0,198.7 189.5,198.8 191.0,198.7 192.5,198.8 194.0,198.6 195.5,198.5 197.0,197.9 198.5,197.9 200.0,197.7 201.5,198.0 203.1,198.0 204.6,197.3 206.2,197.3 207.7,197.2 209.2,197.2 210.8,197.3 212.3,197.2 213.8,196.9 215.4,196.7 216.9,196.9 218.5,196.8 220.0,196.8 221.5,197.0 223.1,196.8 224.6,196.6 226.2,196.6 227.7,196.5 229.2,196.0 230.8,196.5 232.3,196.4 233.8,196.4 235.4,196.2 236.9,195.9 238.5,195.8 240.0,195.5 241.5,195.8 243.1,195.3 244.6,195.2 246.2,195.2 247.7,195.1 249.2,195.1 250.8,194.8 252.3,194.7 253.8,194.7 255.4,194.6 256.9,194.7 258.5,194.4 260.0,194.9 261.5,194.6 263.0,194.2 264.5,194.2 266.0,194.2 267.5,194.1 269.0,193.8 270.5,194.3 272.0,194.3 273.5,193.8 275.0,193.8 276.5,193.4 278.0,193.6 280.0,192.4 281.6,192.5 283.2,192.4 284.8,192.7 286.4,192.1 288.0,191.9 289.6,192.5 291.2,192.1 292.8,191.7 294.4,191.9 296.0,191.5 297.6,191.7 299.2,192.0 300.8,191.8 302.4,191.6 304.0,191.2 305.6,191.2 307.2,190.9 308.8,191.3 310.4,191.0 312.0,191.1 313.8,190.7 315.5,190.5 317.3,190.6 318.0,176.0 319.0,175.0" fill="none" stroke="#12b46c" stroke-width="1.5" stroke-linejoin="round"/>
<polyline points="319.0,175.4 320.2,175.8 321.4,175.8 322.6,175.9 323.8,176.1 325.0,176.2 326.2,175.9 327.4,176.3 328.6,176.3 329.8,176.2 331.0,176.3 332.2,176.6 333.4,176.6 334.6,177.1 335.8,177.4 337.0,176.9 338.2,178.0 339.4,178.7 340.6,179.3 341.8,179.3 343.0,179.7 344.4,180.7 345.8,181.7 347.2,182.7 348.6,184.1 350.0,185.4 351.2,186.1 352.5,186.5 353.8,187.4 355.0,188.3 356.2,188.3 357.5,189.7 358.8,190.7 360.0,191.3 361.2,192.3 362.5,193.0 363.8,193.7 365.0,195.3 366.2,195.7 367.5,197.1 368.8,198.1 370.0,198.4 371.2,198.9 372.5,199.9 373.8,200.2 375.0,200.2 376.2,200.3 377.5,200.4 378.8,201.3 380.0,201.3 381.2,200.4 382.5,200.9 383.8,200.8 385.0,200.2 386.2,199.7 387.5,199.6 388.7,199.0 390.0,198.6 391.2,199.4 392.4,198.8 393.7,198.5 394.9,198.6 396.1,198.0 397.4,198.4 398.6,198.2 399.9,197.5 401.1,197.5 402.4,197.4 403.6,197.2 404.9,197.5 406.1,197.3 407.0,187.8 408.3,187.4 409.6,186.5 411.0,186.7 412.3,185.6 413.6,185.2 415.0,183.7 416.4,182.5 417.8,180.5 419.2,179.4 420.6,178.5 422.0,177.9 423.4,177.4 424.8,176.3 426.2,175.6 427.6,174.6 429.4,177.4 430.8,176.0 432.2,175.3 434.1,178.7 436.0,178.0 437.2,178.3 438.5,179.5 439.7,180.5 441.6,183.5 443.0,179.9 444.4,176.4 446.2,180.3 447.6,181.7 449.0,182.9 450.3,182.8 451.5,181.9 452.8,182.1 454.0,180.6 455.3,179.6 456.5,178.7 458.4,184.6 459.8,188.5 461.2,192.7 462.6,193.8 464.0,194.9 466.2,192.5 467.9,182.0 469.6,171.2 471.4,170.3 473.3,176.8 474.7,172.2 476.1,167.5 478.0,174.0" fill="none" stroke="#cf5c0c" stroke-width="1.8" stroke-linejoin="round"/>
<polyline points="478.0,174.0 479.6,174.9 481.4,177.9 484.4,171.9 485.6,175.5 487.9,176.7 489.7,174.3 491.5,176.7 493.7,182.1 495.7,177.9 498.1,168.4 499.3,151.3 500.5,169.6 502.9,177.9 504.7,179.1 505.9,170.7 507.3,165.4 508.8,179.1 510.6,179.1 511.3,170.0 512.0,160.5 512.7,168.0 513.4,158.5 514.1,167.0 514.8,157.0 515.4,165.0 516.1,155.0 516.7,152.5 517.3,162.0 518.0,151.0 518.7,160.0 519.3,152.0 520.0,156.0 520.7,147.0 521.5,145.0 522.4,143.4 523.1,136.0 523.7,130.6 525.1,132.0 526.6,107.5 527.4,108.2 528.1,122.4 528.9,123.1 529.7,41.0 531.0,118.7 532.4,28.0" fill="none" stroke="#ff2222" stroke-width="1.5" stroke-linejoin="round"/>
<line x1="532.5" y1="21" x2="534.9" y2="220.5" stroke="#ff2a2a" stroke-width="1.8"/>
<circle cx="318.8" cy="167.5" r="3.7" fill="#1fb24a"/>
<circle cx="478.6" cy="137.4" r="4.2" fill="#f08a2e"/>
<circle cx="532.3" cy="21" r="6.4" fill="#c4102c" stroke="#a80c24" stroke-width="0.6"/>
<path d="M529.4,18.1 L535.2,23.9 M535.2,18.1 L529.4,23.9" stroke="#fff" stroke-width="2.2" stroke-linecap="round"/>
<text x="154" y="88.3" font-size="10.8" font-weight="bold" fill="#4242f4" textLength="37.1" lengthAdjust="spacingAndGlyphs">No fault</text>
<text x="270.8" y="55" font-size="10.8" font-weight="bold" fill="#4242f4" textLength="62.9" lengthAdjust="spacingAndGlyphs">Incipient fault</text>
<text x="405.8" y="27.8" font-size="11" font-weight="bold" fill="#4242f4" textLength="54.8" lengthAdjust="spacingAndGlyphs">Severe fault</text>
<text x="133.8" y="212.4" font-size="12.8" font-weight="bold" fill="#13a04e" textLength="74.3" lengthAdjust="spacingAndGlyphs">Healthy stage</text>
<text x="291.9" y="161.6" font-size="11.5" font-weight="bold" fill="#13a04e" textLength="20.2" lengthAdjust="spacingAndGlyphs">FPT</text>
<text x="350.7" y="213" font-size="12.7" font-weight="bold" fill="#cf5c0c" textLength="98.4" lengthAdjust="spacingAndGlyphs">Degradation stage</text>
<text x="500.9" y="36.8" font-size="11.5" font-weight="bold" fill="#ff0000" textLength="20.6" lengthAdjust="spacingAndGlyphs">EoL</text>
<text x="487.5" y="205.5" font-size="12.9" font-weight="bold" fill="#ff0000" textLength="41.2" lengthAdjust="spacingAndGlyphs">Critical</text>
<text x="494.2" y="218.2" font-size="12.9" font-weight="bold" fill="#ff0000" textLength="27.4" lengthAdjust="spacingAndGlyphs">stage</text>
</svg></body></html>
